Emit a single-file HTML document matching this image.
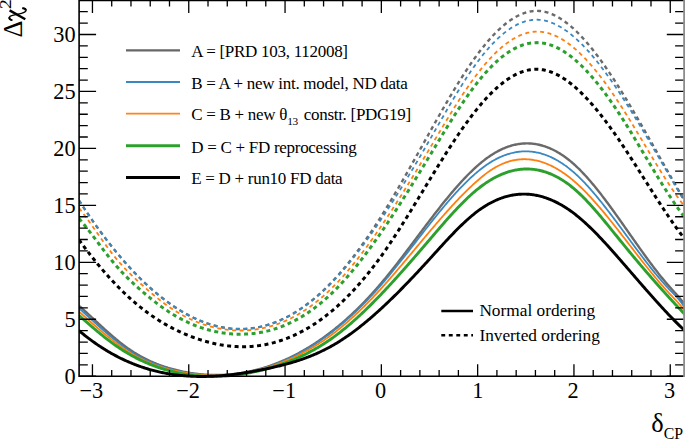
<!DOCTYPE html>
<html><head><meta charset="utf-8"><style>
html,body{margin:0;padding:0;background:#fff;width:685px;height:440px;overflow:hidden}
svg{display:block}

text{font-family:"Liberation Serif",serif;fill:#000}
</style></head><body>
<svg width="685" height="440" viewBox="0 0 685 440">
<rect width="685" height="440" fill="#fff"/>
<g fill="none" stroke-linecap="butt">
<clipPath id="fr"><rect x="79.1" y="-10" width="604.7" height="400"/></clipPath>
<g clip-path="url(#fr)">
<path d="M79.0 305.80 80.0 306.66 81.0 307.53 82.0 308.41 83.0 309.30 84.0 310.20 85.0 311.10 86.0 312.01 87.0 312.92 88.0 313.84 89.0 314.76 90.0 315.69 91.0 316.61 92.0 317.54 93.0 318.47 94.0 319.41 95.0 320.34 96.0 321.27 97.0 322.20 98.0 323.13 99.0 324.06 100.0 324.99 101.0 325.91 102.0 326.83 103.0 327.74 104.0 328.65 105.0 329.56 106.0 330.46 107.0 331.35 108.0 332.24 109.0 333.13 110.0 334.00 111.0 334.88 112.0 335.74 113.0 336.60 114.0 337.45 115.0 338.29 116.0 339.12 117.0 339.95 118.0 340.76 119.0 341.57 120.0 342.37 121.0 343.16 122.0 343.94 123.0 344.71 124.0 345.46 125.0 346.21 126.0 346.95 127.0 347.67 128.0 348.39 129.0 349.09 130.0 349.77 131.0 350.45 132.0 351.11 133.0 351.76 134.0 352.40 135.0 353.03 136.0 353.64 137.0 354.24 138.0 354.83 139.0 355.41 140.0 355.98 141.0 356.53 142.0 357.08 143.0 357.61 144.0 358.13 145.0 358.65 146.0 359.15 147.0 359.64 148.0 360.12 149.0 360.59 150.0 361.05 151.0 361.50 152.0 361.94 153.0 362.38 154.0 362.80 155.0 363.21 156.0 363.62 157.0 364.01 158.0 364.40 159.0 364.78 160.0 365.14 161.0 365.51 162.0 365.86 163.0 366.20 164.0 366.54 165.0 366.87 166.0 367.19 167.0 367.50 168.0 367.81 169.0 368.11 170.0 368.40 171.0 368.69 172.0 368.97 173.0 369.24 174.0 369.50 175.0 369.76 176.0 370.02 177.0 370.26 178.0 370.51 179.0 370.74 180.0 370.97 181.0 371.19 182.0 371.41 183.0 371.62 184.0 371.82 185.0 372.02 186.0 372.21 187.0 372.40 188.0 372.58 189.0 372.75 190.0 372.92 191.0 373.08 192.0 373.23 193.0 373.38 194.0 373.52 195.0 373.66 196.0 373.79 197.0 373.91 198.0 374.03 199.0 374.14 200.0 374.24 201.0 374.34 202.0 374.43 203.0 374.52 204.0 374.60 205.0 374.67 206.0 374.74 207.0 374.80 208.0 374.85 209.0 374.90 210.0 374.94 211.0 374.98 212.0 375.01 213.0 375.03 214.0 375.05 215.0 375.06 216.0 375.06 217.0 375.06 218.0 375.05 219.0 375.03 220.0 375.01 221.0 374.98 222.0 374.95 223.0 374.91 224.0 374.86 225.0 374.81 226.0 374.75 227.0 374.68 228.0 374.61 229.0 374.53 230.0 374.45 231.0 374.36 232.0 374.26 233.0 374.16 234.0 374.05 235.0 373.93 236.0 373.81 237.0 373.68 238.0 373.54 239.0 373.40 240.0 373.25 241.0 373.09 242.0 372.93 243.0 372.76 244.0 372.59 245.0 372.41 246.0 372.22 247.0 372.03 248.0 371.83 249.0 371.62 250.0 371.40 251.0 371.19 252.0 370.96 253.0 370.73 254.0 370.49 255.0 370.24 256.0 369.99 257.0 369.73 258.0 369.47 259.0 369.19 260.0 368.92 261.0 368.63 262.0 368.34 263.0 368.04 264.0 367.74 265.0 367.43 266.0 367.11 267.0 366.79 268.0 366.45 269.0 366.12 270.0 365.77 271.0 365.42 272.0 365.07 273.0 364.70 274.0 364.33 275.0 363.96 276.0 363.58 277.0 363.19 278.0 362.79 279.0 362.39 280.0 361.98 281.0 361.56 282.0 361.14 283.0 360.71 284.0 360.28 285.0 359.83 286.0 359.38 287.0 358.93 288.0 358.47 289.0 358.00 290.0 357.52 291.0 357.04 292.0 356.55 293.0 356.06 294.0 355.55 295.0 355.04 296.0 354.53 297.0 354.01 298.0 353.48 299.0 352.94 300.0 352.40 301.0 351.84 302.0 351.29 303.0 350.72 304.0 350.15 305.0 349.57 306.0 348.99 307.0 348.39 308.0 347.79 309.0 347.19 310.0 346.57 311.0 345.95 312.0 345.32 313.0 344.69 314.0 344.05 315.0 343.40 316.0 342.74 317.0 342.08 318.0 341.40 319.0 340.72 320.0 340.04 321.0 339.34 322.0 338.64 323.0 337.94 324.0 337.22 325.0 336.50 326.0 335.77 327.0 335.03 328.0 334.28 329.0 333.53 330.0 332.77 331.0 332.00 332.0 331.22 333.0 330.44 334.0 329.65 335.0 328.85 336.0 328.04 337.0 327.23 338.0 326.41 339.0 325.58 340.0 324.74 341.0 323.89 342.0 323.04 343.0 322.18 344.0 321.31 345.0 320.43 346.0 319.55 347.0 318.66 348.0 317.76 349.0 316.85 350.0 315.93 351.0 315.01 352.0 314.08 353.0 313.14 354.0 312.19 355.0 311.23 356.0 310.27 357.0 309.29 358.0 308.31 359.0 307.32 360.0 306.33 361.0 305.32 362.0 304.31 363.0 303.29 364.0 302.26 365.0 301.22 366.0 300.17 367.0 299.12 368.0 298.05 369.0 296.98 370.0 295.90 371.0 294.81 372.0 293.72 373.0 292.61 374.0 291.50 375.0 290.38 376.0 289.24 377.0 288.11 378.0 286.96 379.0 285.80 380.0 284.64 381.0 283.46 382.0 282.28 383.0 281.09 384.0 279.89 385.0 278.68 386.0 277.47 387.0 276.24 388.0 275.01 389.0 273.78 390.0 272.53 391.0 271.28 392.0 270.03 393.0 268.77 394.0 267.50 395.0 266.22 396.0 264.94 397.0 263.66 398.0 262.37 399.0 261.08 400.0 259.78 401.0 258.48 402.0 257.17 403.0 255.86 404.0 254.55 405.0 253.23 406.0 251.92 407.0 250.59 408.0 249.27 409.0 247.94 410.0 246.62 411.0 245.29 412.0 243.96 413.0 242.62 414.0 241.29 415.0 239.96 416.0 238.62 417.0 237.29 418.0 235.96 419.0 234.62 420.0 233.29 421.0 231.96 422.0 230.63 423.0 229.30 424.0 227.97 425.0 226.64 426.0 225.32 427.0 223.99 428.0 222.67 429.0 221.36 430.0 220.04 431.0 218.73 432.0 217.42 433.0 216.12 434.0 214.82 435.0 213.53 436.0 212.23 437.0 210.95 438.0 209.67 439.0 208.39 440.0 207.12 441.0 205.86 442.0 204.60 443.0 203.35 444.0 202.10 445.0 200.86 446.0 199.63 447.0 198.40 448.0 197.18 449.0 195.97 450.0 194.77 451.0 193.58 452.0 192.39 453.0 191.21 454.0 190.05 455.0 188.89 456.0 187.74 457.0 186.60 458.0 185.47 459.0 184.35 460.0 183.24 461.0 182.14 462.0 181.05 463.0 179.97 464.0 178.91 465.0 177.85 466.0 176.81 467.0 175.78 468.0 174.76 469.0 173.75 470.0 172.76 471.0 171.78 472.0 170.82 473.0 169.86 474.0 168.92 475.0 168.00 476.0 167.09 477.0 166.19 478.0 165.31 479.0 164.44 480.0 163.59 481.0 162.76 482.0 161.94 483.0 161.13 484.0 160.35 485.0 159.57 486.0 158.82 487.0 158.08 488.0 157.36 489.0 156.66 490.0 155.97 491.0 155.31 492.0 154.66 493.0 154.03 494.0 153.41 495.0 152.82 496.0 152.24 497.0 151.68 498.0 151.14 499.0 150.62 500.0 150.11 501.0 149.62 502.0 149.16 503.0 148.71 504.0 148.27 505.0 147.86 506.0 147.46 507.0 147.09 508.0 146.73 509.0 146.39 510.0 146.06 511.0 145.76 512.0 145.47 513.0 145.20 514.0 144.95 515.0 144.72 516.0 144.51 517.0 144.32 518.0 144.14 519.0 143.98 520.0 143.84 521.0 143.72 522.0 143.62 523.0 143.54 524.0 143.47 525.0 143.43 526.0 143.40 527.0 143.39 528.0 143.40 529.0 143.43 530.0 143.47 531.0 143.54 532.0 143.62 533.0 143.73 534.0 143.85 535.0 143.99 536.0 144.15 537.0 144.33 538.0 144.52 539.0 144.74 540.0 144.97 541.0 145.23 542.0 145.50 543.0 145.79 544.0 146.10 545.0 146.43 546.0 146.77 547.0 147.14 548.0 147.53 549.0 147.93 550.0 148.35 551.0 148.80 552.0 149.26 553.0 149.74 554.0 150.24 555.0 150.76 556.0 151.30 557.0 151.85 558.0 152.43 559.0 153.02 560.0 153.64 561.0 154.27 562.0 154.93 563.0 155.60 564.0 156.29 565.0 157.00 566.0 157.73 567.0 158.48 568.0 159.25 569.0 160.04 570.0 160.84 571.0 161.67 572.0 162.52 573.0 163.38 574.0 164.27 575.0 165.17 576.0 166.10 577.0 167.04 578.0 168.00 579.0 168.98 580.0 169.97 581.0 170.99 582.0 172.02 583.0 173.06 584.0 174.13 585.0 175.21 586.0 176.30 587.0 177.41 588.0 178.54 589.0 179.68 590.0 180.83 591.0 182.00 592.0 183.18 593.0 184.37 594.0 185.58 595.0 186.79 596.0 188.03 597.0 189.27 598.0 190.52 599.0 191.78 600.0 193.06 601.0 194.34 602.0 195.64 603.0 196.94 604.0 198.26 605.0 199.58 606.0 200.91 607.0 202.25 608.0 203.59 609.0 204.95 610.0 206.31 611.0 207.68 612.0 209.05 613.0 210.43 614.0 211.81 615.0 213.20 616.0 214.60 617.0 216.00 618.0 217.40 619.0 218.81 620.0 220.22 621.0 221.64 622.0 223.05 623.0 224.47 624.0 225.89 625.0 227.32 626.0 228.74 627.0 230.16 628.0 231.59 629.0 233.02 630.0 234.44 631.0 235.87 632.0 237.29 633.0 238.71 634.0 240.14 635.0 241.56 636.0 242.97 637.0 244.39 638.0 245.80 639.0 247.21 640.0 248.61 641.0 250.02 642.0 251.41 643.0 252.80 644.0 254.19 645.0 255.57 646.0 256.95 647.0 258.32 648.0 259.68 649.0 261.03 650.0 262.38 651.0 263.72 652.0 265.06 653.0 266.38 654.0 267.70 655.0 269.00 656.0 270.30 657.0 271.59 658.0 272.87 659.0 274.13 660.0 275.39 661.0 276.64 662.0 277.87 663.0 279.09 664.0 280.30 665.0 281.50 666.0 282.68 667.0 283.85 668.0 285.01 669.0 286.16 670.0 287.28 671.0 288.40 672.0 289.50 673.0 290.60 674.0 291.69 675.0 292.79 676.0 293.89 677.0 295.01 678.0 296.14 679.0 297.29 680.0 298.47 681.0 299.68 682.0 300.92 683.0 302.20 684.0 303.53 685.0 304.90" stroke="#6a6a6a" stroke-width="2.4"/>
<path d="M79.0 308.20 80.0 309.10 81.0 310.01 82.0 310.92 83.0 311.82 84.0 312.74 85.0 313.65 86.0 314.56 87.0 315.47 88.0 316.39 89.0 317.30 90.0 318.22 91.0 319.13 92.0 320.04 93.0 320.95 94.0 321.86 95.0 322.77 96.0 323.68 97.0 324.58 98.0 325.48 99.0 326.38 100.0 327.27 101.0 328.17 102.0 329.05 103.0 329.94 104.0 330.82 105.0 331.69 106.0 332.56 107.0 333.42 108.0 334.28 109.0 335.14 110.0 335.98 111.0 336.82 112.0 337.65 113.0 338.48 114.0 339.30 115.0 340.11 116.0 340.91 117.0 341.71 118.0 342.49 119.0 343.27 120.0 344.04 121.0 344.80 122.0 345.55 123.0 346.28 124.0 347.01 125.0 347.73 126.0 348.44 127.0 349.13 128.0 349.82 129.0 350.49 130.0 351.15 131.0 351.80 132.0 352.43 133.0 353.06 134.0 353.67 135.0 354.27 136.0 354.85 137.0 355.43 138.0 355.99 139.0 356.55 140.0 357.09 141.0 357.62 142.0 358.14 143.0 358.65 144.0 359.15 145.0 359.64 146.0 360.12 147.0 360.59 148.0 361.05 149.0 361.49 150.0 361.93 151.0 362.36 152.0 362.78 153.0 363.20 154.0 363.60 155.0 363.99 156.0 364.38 157.0 364.75 158.0 365.12 159.0 365.48 160.0 365.83 161.0 366.17 162.0 366.51 163.0 366.84 164.0 367.16 165.0 367.47 166.0 367.78 167.0 368.07 168.0 368.37 169.0 368.65 170.0 368.93 171.0 369.20 172.0 369.46 173.0 369.72 174.0 369.98 175.0 370.22 176.0 370.46 177.0 370.70 178.0 370.93 179.0 371.15 180.0 371.37 181.0 371.58 182.0 371.79 183.0 371.99 184.0 372.18 185.0 372.37 186.0 372.55 187.0 372.73 188.0 372.90 189.0 373.07 190.0 373.23 191.0 373.38 192.0 373.53 193.0 373.67 194.0 373.81 195.0 373.94 196.0 374.06 197.0 374.18 198.0 374.29 199.0 374.40 200.0 374.50 201.0 374.59 202.0 374.68 203.0 374.76 204.0 374.84 205.0 374.91 206.0 374.97 207.0 375.03 208.0 375.08 209.0 375.13 210.0 375.16 211.0 375.20 212.0 375.23 213.0 375.25 214.0 375.26 215.0 375.27 216.0 375.28 217.0 375.27 218.0 375.26 219.0 375.25 220.0 375.23 221.0 375.20 222.0 375.17 223.0 375.13 224.0 375.08 225.0 375.03 226.0 374.97 227.0 374.91 228.0 374.84 229.0 374.76 230.0 374.68 231.0 374.59 232.0 374.49 233.0 374.39 234.0 374.28 235.0 374.17 236.0 374.05 237.0 373.92 238.0 373.79 239.0 373.65 240.0 373.50 241.0 373.35 242.0 373.19 243.0 373.03 244.0 372.86 245.0 372.68 246.0 372.50 247.0 372.31 248.0 372.11 249.0 371.91 250.0 371.70 251.0 371.48 252.0 371.26 253.0 371.03 254.0 370.80 255.0 370.56 256.0 370.31 257.0 370.05 258.0 369.79 259.0 369.53 260.0 369.25 261.0 368.97 262.0 368.69 263.0 368.39 264.0 368.09 265.0 367.79 266.0 367.48 267.0 367.16 268.0 366.83 269.0 366.50 270.0 366.16 271.0 365.81 272.0 365.46 273.0 365.10 274.0 364.74 275.0 364.37 276.0 363.99 277.0 363.61 278.0 363.21 279.0 362.82 280.0 362.41 281.0 362.00 282.0 361.58 283.0 361.16 284.0 360.73 285.0 360.29 286.0 359.84 287.0 359.39 288.0 358.93 289.0 358.47 290.0 358.00 291.0 357.52 292.0 357.04 293.0 356.54 294.0 356.04 295.0 355.54 296.0 355.03 297.0 354.51 298.0 353.98 299.0 353.45 300.0 352.91 301.0 352.36 302.0 351.81 303.0 351.25 304.0 350.68 305.0 350.11 306.0 349.53 307.0 348.94 308.0 348.34 309.0 347.74 310.0 347.13 311.0 346.52 312.0 345.89 313.0 345.26 314.0 344.62 315.0 343.98 316.0 343.33 317.0 342.67 318.0 342.00 319.0 341.33 320.0 340.65 321.0 339.96 322.0 339.27 323.0 338.57 324.0 337.86 325.0 337.14 326.0 336.42 327.0 335.69 328.0 334.95 329.0 334.20 330.0 333.45 331.0 332.69 332.0 331.92 333.0 331.15 334.0 330.37 335.0 329.58 336.0 328.78 337.0 327.98 338.0 327.16 339.0 326.35 340.0 325.52 341.0 324.69 342.0 323.84 343.0 323.00 344.0 322.14 345.0 321.28 346.0 320.40 347.0 319.52 348.0 318.64 349.0 317.74 350.0 316.84 351.0 315.93 352.0 315.02 353.0 314.09 354.0 313.16 355.0 312.22 356.0 311.27 357.0 310.32 358.0 309.35 359.0 308.38 360.0 307.41 361.0 306.42 362.0 305.43 363.0 304.42 364.0 303.42 365.0 302.40 366.0 301.37 367.0 300.34 368.0 299.30 369.0 298.25 370.0 297.20 371.0 296.13 372.0 295.06 373.0 293.98 374.0 292.89 375.0 291.80 376.0 290.69 377.0 289.58 378.0 288.46 379.0 287.33 380.0 286.20 381.0 285.05 382.0 283.90 383.0 282.74 384.0 281.57 385.0 280.40 386.0 279.22 387.0 278.03 388.0 276.83 389.0 275.63 390.0 274.42 391.0 273.21 392.0 271.99 393.0 270.76 394.0 269.53 395.0 268.30 396.0 267.06 397.0 265.81 398.0 264.56 399.0 263.31 400.0 262.05 401.0 260.79 402.0 259.52 403.0 258.26 404.0 256.99 405.0 255.71 406.0 254.44 407.0 253.16 408.0 251.88 409.0 250.60 410.0 249.31 411.0 248.03 412.0 246.74 413.0 245.46 414.0 244.17 415.0 242.88 416.0 241.59 417.0 240.31 418.0 239.02 419.0 237.73 420.0 236.45 421.0 235.16 422.0 233.88 423.0 232.60 424.0 231.32 425.0 230.04 426.0 228.77 427.0 227.49 428.0 226.22 429.0 224.96 430.0 223.69 431.0 222.43 432.0 221.17 433.0 219.92 434.0 218.67 435.0 217.43 436.0 216.19 437.0 214.95 438.0 213.72 439.0 212.50 440.0 211.28 441.0 210.06 442.0 208.86 443.0 207.66 444.0 206.46 445.0 205.27 446.0 204.09 447.0 202.92 448.0 201.75 449.0 200.59 450.0 199.44 451.0 198.30 452.0 197.17 453.0 196.04 454.0 194.93 455.0 193.82 456.0 192.72 457.0 191.63 458.0 190.55 459.0 189.48 460.0 188.43 461.0 187.38 462.0 186.34 463.0 185.31 464.0 184.30 465.0 183.30 466.0 182.30 467.0 181.32 468.0 180.36 469.0 179.40 470.0 178.46 471.0 177.53 472.0 176.61 473.0 175.71 474.0 174.82 475.0 173.94 476.0 173.08 477.0 172.23 478.0 171.40 479.0 170.58 480.0 169.78 481.0 168.99 482.0 168.22 483.0 167.46 484.0 166.72 485.0 166.00 486.0 165.29 487.0 164.60 488.0 163.92 489.0 163.26 490.0 162.62 491.0 162.00 492.0 161.39 493.0 160.81 494.0 160.24 495.0 159.68 496.0 159.15 497.0 158.63 498.0 158.13 499.0 157.65 500.0 157.19 501.0 156.74 502.0 156.31 503.0 155.90 504.0 155.51 505.0 155.13 506.0 154.78 507.0 154.44 508.0 154.11 509.0 153.81 510.0 153.52 511.0 153.25 512.0 153.00 513.0 152.77 514.0 152.55 515.0 152.35 516.0 152.17 517.0 152.01 518.0 151.87 519.0 151.74 520.0 151.63 521.0 151.54 522.0 151.47 523.0 151.41 524.0 151.38 525.0 151.36 526.0 151.36 527.0 151.37 528.0 151.41 529.0 151.46 530.0 151.53 531.0 151.62 532.0 151.73 533.0 151.85 534.0 151.99 535.0 152.15 536.0 152.33 537.0 152.53 538.0 152.74 539.0 152.97 540.0 153.22 541.0 153.49 542.0 153.78 543.0 154.08 544.0 154.41 545.0 154.75 546.0 155.11 547.0 155.48 548.0 155.88 549.0 156.29 550.0 156.72 551.0 157.17 552.0 157.64 553.0 158.13 554.0 158.63 555.0 159.15 556.0 159.69 557.0 160.25 558.0 160.83 559.0 161.42 560.0 162.04 561.0 162.67 562.0 163.32 563.0 163.98 564.0 164.67 565.0 165.38 566.0 166.10 567.0 166.84 568.0 167.60 569.0 168.38 570.0 169.17 571.0 169.99 572.0 170.82 573.0 171.67 574.0 172.54 575.0 173.43 576.0 174.33 577.0 175.26 578.0 176.20 579.0 177.15 580.0 178.13 581.0 179.12 582.0 180.12 583.0 181.15 584.0 182.18 585.0 183.24 586.0 184.30 587.0 185.38 588.0 186.48 589.0 187.58 590.0 188.71 591.0 189.84 592.0 190.99 593.0 192.14 594.0 193.31 595.0 194.50 596.0 195.69 597.0 196.89 598.0 198.10 599.0 199.33 600.0 200.56 601.0 201.80 602.0 203.05 603.0 204.31 604.0 205.58 605.0 206.86 606.0 208.14 607.0 209.43 608.0 210.73 609.0 212.04 610.0 213.35 611.0 214.66 612.0 215.98 613.0 217.31 614.0 218.64 615.0 219.98 616.0 221.32 617.0 222.66 618.0 224.01 619.0 225.36 620.0 226.71 621.0 228.07 622.0 229.43 623.0 230.78 624.0 232.14 625.0 233.51 626.0 234.87 627.0 236.23 628.0 237.59 629.0 238.95 630.0 240.31 631.0 241.67 632.0 243.03 633.0 244.39 634.0 245.74 635.0 247.09 636.0 248.44 637.0 249.79 638.0 251.13 639.0 252.47 640.0 253.80 641.0 255.13 642.0 256.45 643.0 257.77 644.0 259.09 645.0 260.39 646.0 261.69 647.0 262.99 648.0 264.27 649.0 265.55 650.0 266.82 651.0 268.09 652.0 269.34 653.0 270.59 654.0 271.83 655.0 273.06 656.0 274.27 657.0 275.48 658.0 276.68 659.0 277.86 660.0 279.04 661.0 280.20 662.0 281.35 663.0 282.49 664.0 283.62 665.0 284.73 666.0 285.83 667.0 286.92 668.0 287.99 669.0 289.05 670.0 290.10 671.0 291.13 672.0 292.14 673.0 293.16 674.0 294.19 675.0 295.22 676.0 296.28 677.0 297.37 678.0 298.49 679.0 299.65 680.0 300.87 681.0 302.14 682.0 303.48 683.0 304.89 684.0 306.39 685.0 307.97" stroke="#3a88c0" stroke-width="1.8"/>
<path d="M79.0 311.62 80.0 312.50 81.0 313.38 82.0 314.26 83.0 315.15 84.0 316.03 85.0 316.92 86.0 317.80 87.0 318.68 88.0 319.57 89.0 320.45 90.0 321.33 91.0 322.21 92.0 323.09 93.0 323.96 94.0 324.84 95.0 325.71 96.0 326.58 97.0 327.45 98.0 328.31 99.0 329.17 100.0 330.02 101.0 330.88 102.0 331.72 103.0 332.57 104.0 333.41 105.0 334.24 106.0 335.07 107.0 335.89 108.0 336.71 109.0 337.52 110.0 338.32 111.0 339.12 112.0 339.91 113.0 340.70 114.0 341.47 115.0 342.24 116.0 343.01 117.0 343.76 118.0 344.50 119.0 345.24 120.0 345.97 121.0 346.69 122.0 347.40 123.0 348.10 124.0 348.79 125.0 349.47 126.0 350.13 127.0 350.79 128.0 351.44 129.0 352.08 130.0 352.70 131.0 353.32 132.0 353.92 133.0 354.51 134.0 355.09 135.0 355.66 136.0 356.21 137.0 356.76 138.0 357.29 139.0 357.82 140.0 358.33 141.0 358.84 142.0 359.33 143.0 359.81 144.0 360.29 145.0 360.75 146.0 361.21 147.0 361.65 148.0 362.09 149.0 362.51 150.0 362.93 151.0 363.34 152.0 363.74 153.0 364.13 154.0 364.51 155.0 364.88 156.0 365.25 157.0 365.60 158.0 365.95 159.0 366.29 160.0 366.62 161.0 366.95 162.0 367.27 163.0 367.58 164.0 367.88 165.0 368.18 166.0 368.46 167.0 368.75 168.0 369.02 169.0 369.29 170.0 369.55 171.0 369.81 172.0 370.06 173.0 370.30 174.0 370.54 175.0 370.77 176.0 371.00 177.0 371.22 178.0 371.43 179.0 371.64 180.0 371.85 181.0 372.04 182.0 372.24 183.0 372.42 184.0 372.60 185.0 372.78 186.0 372.95 187.0 373.11 188.0 373.27 189.0 373.42 190.0 373.57 191.0 373.71 192.0 373.85 193.0 373.98 194.0 374.10 195.0 374.22 196.0 374.33 197.0 374.44 198.0 374.54 199.0 374.64 200.0 374.73 201.0 374.81 202.0 374.89 203.0 374.96 204.0 375.03 205.0 375.09 206.0 375.15 207.0 375.20 208.0 375.24 209.0 375.28 210.0 375.31 211.0 375.34 212.0 375.36 213.0 375.37 214.0 375.38 215.0 375.39 216.0 375.39 217.0 375.38 218.0 375.36 219.0 375.35 220.0 375.32 221.0 375.29 222.0 375.25 223.0 375.21 224.0 375.16 225.0 375.11 226.0 375.05 227.0 374.98 228.0 374.91 229.0 374.84 230.0 374.75 231.0 374.66 232.0 374.57 233.0 374.47 234.0 374.36 235.0 374.25 236.0 374.13 237.0 374.01 238.0 373.88 239.0 373.75 240.0 373.60 241.0 373.46 242.0 373.31 243.0 373.15 244.0 372.98 245.0 372.81 246.0 372.64 247.0 372.46 248.0 372.27 249.0 372.07 250.0 371.87 251.0 371.67 252.0 371.46 253.0 371.24 254.0 371.02 255.0 370.79 256.0 370.56 257.0 370.32 258.0 370.07 259.0 369.82 260.0 369.56 261.0 369.30 262.0 369.03 263.0 368.75 264.0 368.47 265.0 368.18 266.0 367.89 267.0 367.59 268.0 367.28 269.0 366.97 270.0 366.66 271.0 366.33 272.0 366.00 273.0 365.67 274.0 365.33 275.0 364.98 276.0 364.63 277.0 364.27 278.0 363.91 279.0 363.54 280.0 363.16 281.0 362.78 282.0 362.39 283.0 362.00 284.0 361.60 285.0 361.19 286.0 360.78 287.0 360.36 288.0 359.94 289.0 359.51 290.0 359.07 291.0 358.63 292.0 358.18 293.0 357.73 294.0 357.27 295.0 356.80 296.0 356.32 297.0 355.84 298.0 355.36 299.0 354.86 300.0 354.36 301.0 353.85 302.0 353.34 303.0 352.82 304.0 352.29 305.0 351.76 306.0 351.21 307.0 350.67 308.0 350.11 309.0 349.55 310.0 348.98 311.0 348.40 312.0 347.81 313.0 347.22 314.0 346.62 315.0 346.01 316.0 345.40 317.0 344.78 318.0 344.14 319.0 343.51 320.0 342.86 321.0 342.21 322.0 341.55 323.0 340.88 324.0 340.20 325.0 339.51 326.0 338.82 327.0 338.12 328.0 337.41 329.0 336.69 330.0 335.97 331.0 335.23 332.0 334.49 333.0 333.74 334.0 332.98 335.0 332.21 336.0 331.43 337.0 330.65 338.0 329.85 339.0 329.05 340.0 328.24 341.0 327.42 342.0 326.60 343.0 325.76 344.0 324.92 345.0 324.07 346.0 323.21 347.0 322.35 348.0 321.47 349.0 320.59 350.0 319.70 351.0 318.81 352.0 317.90 353.0 316.99 354.0 316.07 355.0 315.15 356.0 314.21 357.0 313.27 358.0 312.33 359.0 311.37 360.0 310.41 361.0 309.44 362.0 308.47 363.0 307.48 364.0 306.49 365.0 305.50 366.0 304.49 367.0 303.48 368.0 302.47 369.0 301.45 370.0 300.42 371.0 299.38 372.0 298.34 373.0 297.29 374.0 296.24 375.0 295.18 376.0 294.11 377.0 293.04 378.0 291.96 379.0 290.87 380.0 289.78 381.0 288.68 382.0 287.58 383.0 286.47 384.0 285.36 385.0 284.24 386.0 283.11 387.0 281.99 388.0 280.85 389.0 279.71 390.0 278.57 391.0 277.42 392.0 276.27 393.0 275.11 394.0 273.95 395.0 272.79 396.0 271.62 397.0 270.45 398.0 269.28 399.0 268.11 400.0 266.93 401.0 265.74 402.0 264.56 403.0 263.37 404.0 262.19 405.0 261.00 406.0 259.80 407.0 258.61 408.0 257.41 409.0 256.22 410.0 255.02 411.0 253.82 412.0 252.62 413.0 251.42 414.0 250.22 415.0 249.02 416.0 247.82 417.0 246.62 418.0 245.42 419.0 244.22 420.0 243.02 421.0 241.82 422.0 240.62 423.0 239.42 424.0 238.23 425.0 237.03 426.0 235.84 427.0 234.65 428.0 233.46 429.0 232.27 430.0 231.09 431.0 229.91 432.0 228.73 433.0 227.55 434.0 226.38 435.0 225.21 436.0 224.04 437.0 222.88 438.0 221.72 439.0 220.56 440.0 219.41 441.0 218.26 442.0 217.11 443.0 215.97 444.0 214.84 445.0 213.71 446.0 212.58 447.0 211.46 448.0 210.35 449.0 209.24 450.0 208.13 451.0 207.04 452.0 205.94 453.0 204.86 454.0 203.78 455.0 202.70 456.0 201.64 457.0 200.58 458.0 199.52 459.0 198.48 460.0 197.44 461.0 196.41 462.0 195.39 463.0 194.37 464.0 193.36 465.0 192.37 466.0 191.37 467.0 190.39 468.0 189.42 469.0 188.45 470.0 187.50 471.0 186.55 472.0 185.61 473.0 184.69 474.0 183.77 475.0 182.86 476.0 181.96 477.0 181.08 478.0 180.20 479.0 179.33 480.0 178.48 481.0 177.63 482.0 176.80 483.0 175.99 484.0 175.19 485.0 174.40 486.0 173.64 487.0 172.89 488.0 172.15 489.0 171.44 490.0 170.75 491.0 170.08 492.0 169.43 493.0 168.80 494.0 168.19 495.0 167.60 496.0 167.03 497.0 166.48 498.0 165.95 499.0 165.45 500.0 164.96 501.0 164.49 502.0 164.05 503.0 163.62 504.0 163.22 505.0 162.83 506.0 162.46 507.0 162.12 508.0 161.79 509.0 161.48 510.0 161.20 511.0 160.93 512.0 160.68 513.0 160.46 514.0 160.25 515.0 160.06 516.0 159.89 517.0 159.74 518.0 159.61 519.0 159.50 520.0 159.40 521.0 159.33 522.0 159.27 523.0 159.24 524.0 159.22 525.0 159.22 526.0 159.24 527.0 159.28 528.0 159.34 529.0 159.42 530.0 159.51 531.0 159.63 532.0 159.76 533.0 159.91 534.0 160.08 535.0 160.26 536.0 160.47 537.0 160.69 538.0 160.93 539.0 161.19 540.0 161.47 541.0 161.76 542.0 162.08 543.0 162.41 544.0 162.75 545.0 163.12 546.0 163.50 547.0 163.90 548.0 164.32 549.0 164.76 550.0 165.21 551.0 165.68 552.0 166.17 553.0 166.67 554.0 167.19 555.0 167.73 556.0 168.29 557.0 168.86 558.0 169.45 559.0 170.05 560.0 170.67 561.0 171.31 562.0 171.97 563.0 172.64 564.0 173.33 565.0 174.03 566.0 174.76 567.0 175.49 568.0 176.25 569.0 177.02 570.0 177.80 571.0 178.61 572.0 179.42 573.0 180.26 574.0 181.11 575.0 181.97 576.0 182.85 577.0 183.75 578.0 184.66 579.0 185.59 580.0 186.53 581.0 187.48 582.0 188.45 583.0 189.43 584.0 190.42 585.0 191.43 586.0 192.45 587.0 193.48 588.0 194.53 589.0 195.59 590.0 196.65 591.0 197.73 592.0 198.82 593.0 199.92 594.0 201.03 595.0 202.15 596.0 203.29 597.0 204.43 598.0 205.58 599.0 206.73 600.0 207.90 601.0 209.08 602.0 210.26 603.0 211.45 604.0 212.65 605.0 213.86 606.0 215.07 607.0 216.29 608.0 217.52 609.0 218.75 610.0 219.99 611.0 221.23 612.0 222.48 613.0 223.73 614.0 224.99 615.0 226.25 616.0 227.52 617.0 228.79 618.0 230.07 619.0 231.34 620.0 232.62 621.0 233.91 622.0 235.19 623.0 236.48 624.0 237.77 625.0 239.06 626.0 240.35 627.0 241.64 628.0 242.94 629.0 244.23 630.0 245.53 631.0 246.82 632.0 248.11 633.0 249.41 634.0 250.70 635.0 251.99 636.0 253.28 637.0 254.56 638.0 255.85 639.0 257.13 640.0 258.41 641.0 259.69 642.0 260.96 643.0 262.23 644.0 263.50 645.0 264.76 646.0 266.02 647.0 267.27 648.0 268.52 649.0 269.76 650.0 270.99 651.0 272.22 652.0 273.45 653.0 274.67 654.0 275.88 655.0 277.08 656.0 278.28 657.0 279.47 658.0 280.65 659.0 281.82 660.0 282.99 661.0 284.14 662.0 285.29 663.0 286.43 664.0 287.56 665.0 288.68 666.0 289.78 667.0 290.88 668.0 291.97 669.0 293.04 670.0 294.11 671.0 295.16 672.0 296.21 673.0 297.25 674.0 298.30 675.0 299.35 676.0 300.42 677.0 301.50 678.0 302.61 679.0 303.75 680.0 304.92 681.0 306.13 682.0 307.38 683.0 308.68 684.0 310.04 685.0 311.46" stroke="#ff7f0e" stroke-width="1.8"/>
<path d="M79.0 315.36 80.0 316.25 81.0 317.14 82.0 318.02 83.0 318.91 84.0 319.80 85.0 320.68 86.0 321.56 87.0 322.44 88.0 323.32 89.0 324.19 90.0 325.06 91.0 325.93 92.0 326.79 93.0 327.65 94.0 328.50 95.0 329.35 96.0 330.20 97.0 331.04 98.0 331.88 99.0 332.71 100.0 333.53 101.0 334.35 102.0 335.16 103.0 335.97 104.0 336.77 105.0 337.56 106.0 338.35 107.0 339.13 108.0 339.90 109.0 340.66 110.0 341.42 111.0 342.16 112.0 342.90 113.0 343.63 114.0 344.35 115.0 345.06 116.0 345.76 117.0 346.45 118.0 347.13 119.0 347.81 120.0 348.47 121.0 349.12 122.0 349.77 123.0 350.40 124.0 351.03 125.0 351.65 126.0 352.25 127.0 352.85 128.0 353.44 129.0 354.02 130.0 354.60 131.0 355.16 132.0 355.72 133.0 356.26 134.0 356.80 135.0 357.33 136.0 357.85 137.0 358.36 138.0 358.87 139.0 359.36 140.0 359.85 141.0 360.33 142.0 360.80 143.0 361.26 144.0 361.72 145.0 362.17 146.0 362.61 147.0 363.04 148.0 363.46 149.0 363.88 150.0 364.29 151.0 364.69 152.0 365.08 153.0 365.47 154.0 365.85 155.0 366.22 156.0 366.58 157.0 366.94 158.0 367.29 159.0 367.63 160.0 367.97 161.0 368.30 162.0 368.62 163.0 368.94 164.0 369.24 165.0 369.55 166.0 369.84 167.0 370.13 168.0 370.41 169.0 370.68 170.0 370.95 171.0 371.21 172.0 371.46 173.0 371.71 174.0 371.95 175.0 372.19 176.0 372.41 177.0 372.63 178.0 372.85 179.0 373.06 180.0 373.26 181.0 373.45 182.0 373.64 183.0 373.82 184.0 374.00 185.0 374.17 186.0 374.33 187.0 374.49 188.0 374.64 189.0 374.78 190.0 374.92 191.0 375.05 192.0 375.18 193.0 375.30 194.0 375.41 195.0 375.52 196.0 375.62 197.0 375.71 198.0 375.80 199.0 375.88 200.0 375.96 201.0 376.03 202.0 376.10 203.0 376.16 204.0 376.21 205.0 376.26 206.0 376.30 207.0 376.34 208.0 376.37 209.0 376.39 210.0 376.41 211.0 376.42 212.0 376.43 213.0 376.43 214.0 376.43 215.0 376.42 216.0 376.40 217.0 376.38 218.0 376.36 219.0 376.32 220.0 376.29 221.0 376.24 222.0 376.20 223.0 376.14 224.0 376.08 225.0 376.02 226.0 375.95 227.0 375.88 228.0 375.80 229.0 375.71 230.0 375.62 231.0 375.52 232.0 375.42 233.0 375.31 234.0 375.20 235.0 375.09 236.0 374.96 237.0 374.84 238.0 374.70 239.0 374.57 240.0 374.42 241.0 374.28 242.0 374.12 243.0 373.97 244.0 373.80 245.0 373.64 246.0 373.46 247.0 373.29 248.0 373.10 249.0 372.92 250.0 372.72 251.0 372.53 252.0 372.33 253.0 372.12 254.0 371.91 255.0 371.69 256.0 371.47 257.0 371.25 258.0 371.02 259.0 370.78 260.0 370.54 261.0 370.30 262.0 370.05 263.0 369.80 264.0 369.54 265.0 369.28 266.0 369.01 267.0 368.74 268.0 368.46 269.0 368.18 270.0 367.90 271.0 367.61 272.0 367.31 273.0 367.01 274.0 366.71 275.0 366.40 276.0 366.08 277.0 365.76 278.0 365.44 279.0 365.11 280.0 364.77 281.0 364.43 282.0 364.08 283.0 363.73 284.0 363.37 285.0 363.01 286.0 362.64 287.0 362.26 288.0 361.88 289.0 361.50 290.0 361.10 291.0 360.70 292.0 360.30 293.0 359.89 294.0 359.47 295.0 359.05 296.0 358.62 297.0 358.18 298.0 357.73 299.0 357.28 300.0 356.83 301.0 356.36 302.0 355.89 303.0 355.42 304.0 354.93 305.0 354.44 306.0 353.94 307.0 353.44 308.0 352.93 309.0 352.41 310.0 351.88 311.0 351.34 312.0 350.80 313.0 350.25 314.0 349.69 315.0 349.13 316.0 348.56 317.0 347.98 318.0 347.39 319.0 346.79 320.0 346.19 321.0 345.58 322.0 344.96 323.0 344.33 324.0 343.69 325.0 343.05 326.0 342.39 327.0 341.73 328.0 341.06 329.0 340.38 330.0 339.69 331.0 339.00 332.0 338.29 333.0 337.58 334.0 336.85 335.0 336.12 336.0 335.38 337.0 334.63 338.0 333.87 339.0 333.11 340.0 332.33 341.0 331.55 342.0 330.76 343.0 329.96 344.0 329.15 345.0 328.33 346.0 327.51 347.0 326.68 348.0 325.84 349.0 324.99 350.0 324.14 351.0 323.28 352.0 322.41 353.0 321.53 354.0 320.65 355.0 319.76 356.0 318.86 357.0 317.95 358.0 317.04 359.0 316.12 360.0 315.20 361.0 314.27 362.0 313.33 363.0 312.38 364.0 311.43 365.0 310.48 366.0 309.51 367.0 308.55 368.0 307.57 369.0 306.59 370.0 305.60 371.0 304.61 372.0 303.61 373.0 302.61 374.0 301.60 375.0 300.59 376.0 299.57 377.0 298.54 378.0 297.51 379.0 296.48 380.0 295.44 381.0 294.40 382.0 293.35 383.0 292.29 384.0 291.23 385.0 290.17 386.0 289.11 387.0 288.03 388.0 286.96 389.0 285.88 390.0 284.80 391.0 283.71 392.0 282.62 393.0 281.52 394.0 280.42 395.0 279.32 396.0 278.22 397.0 277.11 398.0 276.00 399.0 274.88 400.0 273.76 401.0 272.64 402.0 271.52 403.0 270.39 404.0 269.26 405.0 268.13 406.0 266.99 407.0 265.85 408.0 264.71 409.0 263.57 410.0 262.43 411.0 261.28 412.0 260.13 413.0 258.98 414.0 257.83 415.0 256.67 416.0 255.52 417.0 254.36 418.0 253.20 419.0 252.04 420.0 250.87 421.0 249.71 422.0 248.55 423.0 247.38 424.0 246.21 425.0 245.05 426.0 243.88 427.0 242.71 428.0 241.54 429.0 240.37 430.0 239.20 431.0 238.03 432.0 236.86 433.0 235.69 434.0 234.52 435.0 233.35 436.0 232.18 437.0 231.02 438.0 229.85 439.0 228.69 440.0 227.53 441.0 226.38 442.0 225.23 443.0 224.08 444.0 222.93 445.0 221.79 446.0 220.66 447.0 219.53 448.0 218.40 449.0 217.29 450.0 216.17 451.0 215.07 452.0 213.97 453.0 212.88 454.0 211.79 455.0 210.71 456.0 209.64 457.0 208.58 458.0 207.53 459.0 206.49 460.0 205.45 461.0 204.43 462.0 203.42 463.0 202.41 464.0 201.42 465.0 200.44 466.0 199.47 467.0 198.51 468.0 197.56 469.0 196.63 470.0 195.71 471.0 194.80 472.0 193.90 473.0 193.02 474.0 192.15 475.0 191.30 476.0 190.46 477.0 189.64 478.0 188.83 479.0 188.04 480.0 187.26 481.0 186.50 482.0 185.76 483.0 185.03 484.0 184.31 485.0 183.62 486.0 182.93 487.0 182.27 488.0 181.62 489.0 180.98 490.0 180.36 491.0 179.76 492.0 179.17 493.0 178.60 494.0 178.05 495.0 177.51 496.0 176.99 497.0 176.48 498.0 175.99 499.0 175.52 500.0 175.06 501.0 174.62 502.0 174.20 503.0 173.79 504.0 173.40 505.0 173.02 506.0 172.66 507.0 172.32 508.0 171.99 509.0 171.68 510.0 171.39 511.0 171.12 512.0 170.86 513.0 170.61 514.0 170.39 515.0 170.18 516.0 169.99 517.0 169.81 518.0 169.65 519.0 169.51 520.0 169.39 521.0 169.28 522.0 169.19 523.0 169.11 524.0 169.06 525.0 169.02 526.0 168.99 527.0 168.99 528.0 169.00 529.0 169.03 530.0 169.08 531.0 169.14 532.0 169.22 533.0 169.32 534.0 169.43 535.0 169.57 536.0 169.72 537.0 169.89 538.0 170.07 539.0 170.28 540.0 170.50 541.0 170.73 542.0 170.99 543.0 171.26 544.0 171.56 545.0 171.86 546.0 172.19 547.0 172.54 548.0 172.90 549.0 173.28 550.0 173.68 551.0 174.09 552.0 174.53 553.0 174.98 554.0 175.45 555.0 175.94 556.0 176.45 557.0 176.97 558.0 177.51 559.0 178.08 560.0 178.65 561.0 179.25 562.0 179.87 563.0 180.50 564.0 181.16 565.0 181.83 566.0 182.52 567.0 183.22 568.0 183.95 569.0 184.70 570.0 185.46 571.0 186.24 572.0 187.04 573.0 187.86 574.0 188.70 575.0 189.56 576.0 190.43 577.0 191.32 578.0 192.23 579.0 193.16 580.0 194.11 581.0 195.07 582.0 196.04 583.0 197.03 584.0 198.04 585.0 199.06 586.0 200.09 587.0 201.13 588.0 202.19 589.0 203.27 590.0 204.35 591.0 205.45 592.0 206.55 593.0 207.67 594.0 208.80 595.0 209.93 596.0 211.08 597.0 212.24 598.0 213.40 599.0 214.57 600.0 215.75 601.0 216.94 602.0 218.13 603.0 219.33 604.0 220.53 605.0 221.74 606.0 222.96 607.0 224.18 608.0 225.40 609.0 226.63 610.0 227.86 611.0 229.09 612.0 230.33 613.0 231.57 614.0 232.80 615.0 234.04 616.0 235.28 617.0 236.52 618.0 237.76 619.0 239.00 620.0 240.23 621.0 241.47 622.0 242.70 623.0 243.93 624.0 245.16 625.0 246.38 626.0 247.60 627.0 248.82 628.0 250.04 629.0 251.25 630.0 252.46 631.0 253.67 632.0 254.87 633.0 256.07 634.0 257.27 635.0 258.47 636.0 259.66 637.0 260.85 638.0 262.04 639.0 263.22 640.0 264.41 641.0 265.59 642.0 266.76 643.0 267.93 644.0 269.10 645.0 270.27 646.0 271.44 647.0 272.60 648.0 273.76 649.0 274.91 650.0 276.06 651.0 277.21 652.0 278.36 653.0 279.51 654.0 280.65 655.0 281.78 656.0 282.92 657.0 284.05 658.0 285.18 659.0 286.31 660.0 287.43 661.0 288.55 662.0 289.67 663.0 290.78 664.0 291.89 665.0 293.00 666.0 294.11 667.0 295.21 668.0 296.31 669.0 297.41 670.0 298.50 671.0 299.59 672.0 300.68 673.0 301.76 674.0 302.84 675.0 303.92 676.0 304.99 677.0 306.07 678.0 307.13 679.0 308.20 680.0 309.26 681.0 310.32 682.0 311.38 683.0 312.43 684.0 313.48 685.0 314.53" stroke="#2ca02c" stroke-width="2.9"/>
<path d="M79.0 330.64 80.0 331.48 81.0 332.31 82.0 333.13 83.0 333.94 84.0 334.75 85.0 335.54 86.0 336.33 87.0 337.10 88.0 337.87 89.0 338.63 90.0 339.38 91.0 340.12 92.0 340.85 93.0 341.58 94.0 342.29 95.0 343.00 96.0 343.70 97.0 344.38 98.0 345.07 99.0 345.74 100.0 346.40 101.0 347.05 102.0 347.70 103.0 348.34 104.0 348.97 105.0 349.59 106.0 350.20 107.0 350.81 108.0 351.40 109.0 351.99 110.0 352.57 111.0 353.14 112.0 353.71 113.0 354.26 114.0 354.81 115.0 355.35 116.0 355.89 117.0 356.41 118.0 356.93 119.0 357.44 120.0 357.94 121.0 358.43 122.0 358.92 123.0 359.40 124.0 359.87 125.0 360.33 126.0 360.78 127.0 361.23 128.0 361.67 129.0 362.11 130.0 362.53 131.0 362.95 132.0 363.36 133.0 363.77 134.0 364.17 135.0 364.56 136.0 364.94 137.0 365.32 138.0 365.68 139.0 366.05 140.0 366.40 141.0 366.75 142.0 367.09 143.0 367.42 144.0 367.75 145.0 368.07 146.0 368.39 147.0 368.69 148.0 369.00 149.0 369.29 150.0 369.58 151.0 369.86 152.0 370.13 153.0 370.40 154.0 370.66 155.0 370.92 156.0 371.17 157.0 371.41 158.0 371.65 159.0 371.88 160.0 372.10 161.0 372.32 162.0 372.53 163.0 372.74 164.0 372.94 165.0 373.13 166.0 373.32 167.0 373.50 168.0 373.68 169.0 373.85 170.0 374.02 171.0 374.17 172.0 374.33 173.0 374.48 174.0 374.62 175.0 374.75 176.0 374.89 177.0 375.01 178.0 375.13 179.0 375.25 180.0 375.36 181.0 375.46 182.0 375.56 183.0 375.65 184.0 375.74 185.0 375.82 186.0 375.90 187.0 375.97 188.0 376.04 189.0 376.10 190.0 376.16 191.0 376.21 192.0 376.26 193.0 376.30 194.0 376.34 195.0 376.37 196.0 376.40 197.0 376.43 198.0 376.45 199.0 376.46 200.0 376.47 201.0 376.47 202.0 376.48 203.0 376.47 204.0 376.46 205.0 376.45 206.0 376.43 207.0 376.41 208.0 376.39 209.0 376.36 210.0 376.32 211.0 376.28 212.0 376.24 213.0 376.20 214.0 376.14 215.0 376.09 216.0 376.03 217.0 375.97 218.0 375.90 219.0 375.83 220.0 375.76 221.0 375.68 222.0 375.60 223.0 375.51 224.0 375.42 225.0 375.33 226.0 375.24 227.0 375.14 228.0 375.03 229.0 374.93 230.0 374.82 231.0 374.70 232.0 374.58 233.0 374.46 234.0 374.34 235.0 374.21 236.0 374.08 237.0 373.95 238.0 373.81 239.0 373.68 240.0 373.53 241.0 373.39 242.0 373.24 243.0 373.09 244.0 372.93 245.0 372.78 246.0 372.62 247.0 372.45 248.0 372.29 249.0 372.12 250.0 371.95 251.0 371.78 252.0 371.60 253.0 371.42 254.0 371.24 255.0 371.06 256.0 370.87 257.0 370.68 258.0 370.49 259.0 370.30 260.0 370.11 261.0 369.91 262.0 369.71 263.0 369.51 264.0 369.30 265.0 369.10 266.0 368.89 267.0 368.68 268.0 368.47 269.0 368.25 270.0 368.04 271.0 367.82 272.0 367.60 273.0 367.37 274.0 367.15 275.0 366.92 276.0 366.68 277.0 366.45 278.0 366.21 279.0 365.97 280.0 365.72 281.0 365.48 282.0 365.22 283.0 364.97 284.0 364.71 285.0 364.44 286.0 364.18 287.0 363.91 288.0 363.63 289.0 363.35 290.0 363.07 291.0 362.78 292.0 362.49 293.0 362.19 294.0 361.88 295.0 361.58 296.0 361.26 297.0 360.95 298.0 360.62 299.0 360.30 300.0 359.96 301.0 359.62 302.0 359.28 303.0 358.93 304.0 358.57 305.0 358.21 306.0 357.84 307.0 357.47 308.0 357.09 309.0 356.70 310.0 356.31 311.0 355.91 312.0 355.50 313.0 355.09 314.0 354.67 315.0 354.24 316.0 353.81 317.0 353.37 318.0 352.92 319.0 352.47 320.0 352.00 321.0 351.53 322.0 351.06 323.0 350.57 324.0 350.08 325.0 349.57 326.0 349.06 327.0 348.55 328.0 348.02 329.0 347.48 330.0 346.94 331.0 346.39 332.0 345.83 333.0 345.26 334.0 344.68 335.0 344.09 336.0 343.50 337.0 342.89 338.0 342.28 339.0 341.66 340.0 341.03 341.0 340.39 342.0 339.74 343.0 339.09 344.0 338.42 345.0 337.75 346.0 337.07 347.0 336.39 348.0 335.69 349.0 334.99 350.0 334.28 351.0 333.56 352.0 332.83 353.0 332.10 354.0 331.35 355.0 330.60 356.0 329.85 357.0 329.08 358.0 328.31 359.0 327.54 360.0 326.75 361.0 325.96 362.0 325.16 363.0 324.35 364.0 323.54 365.0 322.72 366.0 321.90 367.0 321.06 368.0 320.23 369.0 319.38 370.0 318.53 371.0 317.67 372.0 316.81 373.0 315.94 374.0 315.06 375.0 314.18 376.0 313.29 377.0 312.40 378.0 311.50 379.0 310.59 380.0 309.68 381.0 308.77 382.0 307.84 383.0 306.92 384.0 305.98 385.0 305.05 386.0 304.10 387.0 303.16 388.0 302.20 389.0 301.24 390.0 300.28 391.0 299.31 392.0 298.34 393.0 297.37 394.0 296.38 395.0 295.40 396.0 294.41 397.0 293.41 398.0 292.41 399.0 291.41 400.0 290.40 401.0 289.39 402.0 288.38 403.0 287.36 404.0 286.33 405.0 285.31 406.0 284.27 407.0 283.24 408.0 282.20 409.0 281.16 410.0 280.12 411.0 279.07 412.0 278.02 413.0 276.96 414.0 275.90 415.0 274.84 416.0 273.78 417.0 272.71 418.0 271.64 419.0 270.57 420.0 269.49 421.0 268.42 422.0 267.34 423.0 266.25 424.0 265.17 425.0 264.08 426.0 262.99 427.0 261.90 428.0 260.80 429.0 259.71 430.0 258.61 431.0 257.51 432.0 256.41 433.0 255.31 434.0 254.20 435.0 253.10 436.0 252.00 437.0 250.90 438.0 249.79 439.0 248.69 440.0 247.60 441.0 246.50 442.0 245.41 443.0 244.32 444.0 243.23 445.0 242.14 446.0 241.06 447.0 239.99 448.0 238.92 449.0 237.85 450.0 236.79 451.0 235.74 452.0 234.69 453.0 233.65 454.0 232.62 455.0 231.59 456.0 230.57 457.0 229.56 458.0 228.56 459.0 227.57 460.0 226.58 461.0 225.61 462.0 224.65 463.0 223.69 464.0 222.75 465.0 221.82 466.0 220.90 467.0 220.00 468.0 219.10 469.0 218.22 470.0 217.35 471.0 216.50 472.0 215.66 473.0 214.83 474.0 214.02 475.0 213.23 476.0 212.45 477.0 211.68 478.0 210.93 479.0 210.20 480.0 209.49 481.0 208.79 482.0 208.11 483.0 207.44 484.0 206.79 485.0 206.16 486.0 205.54 487.0 204.94 488.0 204.36 489.0 203.79 490.0 203.24 491.0 202.71 492.0 202.19 493.0 201.69 494.0 201.20 495.0 200.73 496.0 200.28 497.0 199.84 498.0 199.42 499.0 199.02 500.0 198.63 501.0 198.26 502.0 197.90 503.0 197.56 504.0 197.24 505.0 196.93 506.0 196.64 507.0 196.36 508.0 196.10 509.0 195.86 510.0 195.63 511.0 195.42 512.0 195.22 513.0 195.05 514.0 194.88 515.0 194.73 516.0 194.60 517.0 194.48 518.0 194.38 519.0 194.30 520.0 194.23 521.0 194.18 522.0 194.14 523.0 194.12 524.0 194.11 525.0 194.12 526.0 194.15 527.0 194.19 528.0 194.25 529.0 194.32 530.0 194.41 531.0 194.51 532.0 194.63 533.0 194.76 534.0 194.92 535.0 195.08 536.0 195.26 537.0 195.46 538.0 195.67 539.0 195.90 540.0 196.14 541.0 196.40 542.0 196.67 543.0 196.96 544.0 197.27 545.0 197.59 546.0 197.92 547.0 198.27 548.0 198.64 549.0 199.02 550.0 199.42 551.0 199.83 552.0 200.25 553.0 200.70 554.0 201.15 555.0 201.62 556.0 202.11 557.0 202.61 558.0 203.13 559.0 203.66 560.0 204.21 561.0 204.77 562.0 205.35 563.0 205.94 564.0 206.55 565.0 207.17 566.0 207.81 567.0 208.46 568.0 209.13 569.0 209.81 570.0 210.51 571.0 211.22 572.0 211.94 573.0 212.68 574.0 213.44 575.0 214.21 576.0 215.00 577.0 215.80 578.0 216.61 579.0 217.43 580.0 218.28 581.0 219.13 582.0 219.99 583.0 220.87 584.0 221.76 585.0 222.67 586.0 223.58 587.0 224.51 588.0 225.44 589.0 226.39 590.0 227.35 591.0 228.32 592.0 229.30 593.0 230.28 594.0 231.28 595.0 232.29 596.0 233.31 597.0 234.33 598.0 235.36 599.0 236.40 600.0 237.45 601.0 238.51 602.0 239.57 603.0 240.64 604.0 241.72 605.0 242.80 606.0 243.89 607.0 244.99 608.0 246.09 609.0 247.20 610.0 248.31 611.0 249.42 612.0 250.54 613.0 251.67 614.0 252.80 615.0 253.93 616.0 255.07 617.0 256.20 618.0 257.35 619.0 258.49 620.0 259.64 621.0 260.79 622.0 261.94 623.0 263.09 624.0 264.24 625.0 265.39 626.0 266.55 627.0 267.70 628.0 268.86 629.0 270.02 630.0 271.17 631.0 272.33 632.0 273.49 633.0 274.64 634.0 275.80 635.0 276.96 636.0 278.11 637.0 279.27 638.0 280.42 639.0 281.58 640.0 282.73 641.0 283.88 642.0 285.03 643.0 286.18 644.0 287.32 645.0 288.47 646.0 289.61 647.0 290.75 648.0 291.88 649.0 293.02 650.0 294.15 651.0 295.28 652.0 296.40 653.0 297.53 654.0 298.65 655.0 299.76 656.0 300.88 657.0 301.99 658.0 303.09 659.0 304.19 660.0 305.29 661.0 306.38 662.0 307.47 663.0 308.55 664.0 309.63 665.0 310.70 666.0 311.77 667.0 312.83 668.0 313.89 669.0 314.94 670.0 315.99 671.0 317.03 672.0 318.06 673.0 319.09 674.0 320.11 675.0 321.13 676.0 322.14 677.0 323.14 678.0 324.14 679.0 325.12 680.0 326.10 681.0 327.08 682.0 328.04 683.0 329.00 684.0 329.95 685.0 330.89" stroke="#000000" stroke-width="2.9"/>
<path d="M79.0 200.33 80.0 201.89 81.0 203.44 82.0 204.98 83.0 206.51 84.0 208.04 85.0 209.55 86.0 211.05 87.0 212.55 88.0 214.03 89.0 215.50 90.0 216.97 91.0 218.43 92.0 219.87 93.0 221.31 94.0 222.74 95.0 224.16 96.0 225.57 97.0 226.97 98.0 228.36 99.0 229.74 100.0 231.11 101.0 232.47 102.0 233.83 103.0 235.17 104.0 236.50 105.0 237.83 106.0 239.14 107.0 240.45 108.0 241.75 109.0 243.03 110.0 244.31 111.0 245.58 112.0 246.84 113.0 248.09 114.0 249.33 115.0 250.56 116.0 251.78 117.0 252.99 118.0 254.19 119.0 255.39 120.0 256.57 121.0 257.75 122.0 258.91 123.0 260.07 124.0 261.21 125.0 262.35 126.0 263.48 127.0 264.59 128.0 265.70 129.0 266.80 130.0 267.89 131.0 268.97 132.0 270.04 133.0 271.10 134.0 272.16 135.0 273.20 136.0 274.23 137.0 275.25 138.0 276.27 139.0 277.27 140.0 278.27 141.0 279.26 142.0 280.23 143.0 281.20 144.0 282.16 145.0 283.11 146.0 284.04 147.0 284.97 148.0 285.89 149.0 286.81 150.0 287.71 151.0 288.60 152.0 289.48 153.0 290.35 154.0 291.22 155.0 292.07 156.0 292.92 157.0 293.75 158.0 294.58 159.0 295.39 160.0 296.20 161.0 297.00 162.0 297.79 163.0 298.57 164.0 299.33 165.0 300.09 166.0 300.84 167.0 301.59 168.0 302.32 169.0 303.04 170.0 303.75 171.0 304.45 172.0 305.15 173.0 305.83 174.0 306.51 175.0 307.17 176.0 307.83 177.0 308.47 178.0 309.11 179.0 309.73 180.0 310.35 181.0 310.96 182.0 311.55 183.0 312.14 184.0 312.72 185.0 313.29 186.0 313.85 187.0 314.39 188.0 314.93 189.0 315.46 190.0 315.98 191.0 316.49 192.0 316.99 193.0 317.48 194.0 317.96 195.0 318.43 196.0 318.89 197.0 319.34 198.0 319.78 199.0 320.21 200.0 320.63 201.0 321.04 202.0 321.43 203.0 321.82 204.0 322.20 205.0 322.57 206.0 322.93 207.0 323.28 208.0 323.62 209.0 323.95 210.0 324.27 211.0 324.58 212.0 324.88 213.0 325.17 214.0 325.44 215.0 325.71 216.0 325.97 217.0 326.22 218.0 326.45 219.0 326.68 220.0 326.90 221.0 327.10 222.0 327.30 223.0 327.48 224.0 327.66 225.0 327.82 226.0 327.98 227.0 328.12 228.0 328.25 229.0 328.38 230.0 328.49 231.0 328.59 232.0 328.68 233.0 328.76 234.0 328.83 235.0 328.89 236.0 328.94 237.0 328.98 238.0 329.01 239.0 329.02 240.0 329.03 241.0 329.03 242.0 329.01 243.0 328.99 244.0 328.95 245.0 328.90 246.0 328.84 247.0 328.78 248.0 328.70 249.0 328.61 250.0 328.50 251.0 328.39 252.0 328.27 253.0 328.14 254.0 327.99 255.0 327.84 256.0 327.67 257.0 327.49 258.0 327.31 259.0 327.11 260.0 326.90 261.0 326.67 262.0 326.44 263.0 326.20 264.0 325.95 265.0 325.68 266.0 325.40 267.0 325.12 268.0 324.82 269.0 324.51 270.0 324.19 271.0 323.86 272.0 323.51 273.0 323.16 274.0 322.79 275.0 322.42 276.0 322.03 277.0 321.63 278.0 321.22 279.0 320.80 280.0 320.36 281.0 319.92 282.0 319.46 283.0 318.99 284.0 318.52 285.0 318.03 286.0 317.52 287.0 317.01 288.0 316.49 289.0 315.95 290.0 315.40 291.0 314.85 292.0 314.27 293.0 313.69 294.0 313.10 295.0 312.49 296.0 311.88 297.0 311.25 298.0 310.61 299.0 309.96 300.0 309.30 301.0 308.62 302.0 307.94 303.0 307.24 304.0 306.53 305.0 305.81 306.0 305.07 307.0 304.33 308.0 303.57 309.0 302.80 310.0 302.02 311.0 301.23 312.0 300.43 313.0 299.61 314.0 298.78 315.0 297.94 316.0 297.09 317.0 296.23 318.0 295.35 319.0 294.47 320.0 293.57 321.0 292.66 322.0 291.73 323.0 290.80 324.0 289.85 325.0 288.89 326.0 287.92 327.0 286.94 328.0 285.94 329.0 284.93 330.0 283.91 331.0 282.88 332.0 281.84 333.0 280.78 334.0 279.71 335.0 278.63 336.0 277.54 337.0 276.43 338.0 275.32 339.0 274.19 340.0 273.05 341.0 271.90 342.0 270.73 343.0 269.55 344.0 268.37 345.0 267.17 346.0 265.96 347.0 264.73 348.0 263.50 349.0 262.25 350.0 261.00 351.0 259.73 352.0 258.45 353.0 257.16 354.0 255.86 355.0 254.55 356.0 253.22 357.0 251.89 358.0 250.54 359.0 249.18 360.0 247.82 361.0 246.44 362.0 245.05 363.0 243.65 364.0 242.24 365.0 240.82 366.0 239.39 367.0 237.94 368.0 236.49 369.0 235.03 370.0 233.56 371.0 232.07 372.0 230.58 373.0 229.08 374.0 227.56 375.0 226.04 376.0 224.51 377.0 222.96 378.0 221.41 379.0 219.84 380.0 218.27 381.0 216.69 382.0 215.10 383.0 213.49 384.0 211.88 385.0 210.26 386.0 208.63 387.0 207.00 388.0 205.35 389.0 203.70 390.0 202.03 391.0 200.36 392.0 198.69 393.0 197.00 394.0 195.31 395.0 193.61 396.0 191.91 397.0 190.20 398.0 188.48 399.0 186.76 400.0 185.03 401.0 183.29 402.0 181.56 403.0 179.81 404.0 178.06 405.0 176.31 406.0 174.55 407.0 172.79 408.0 171.03 409.0 169.26 410.0 167.49 411.0 165.71 412.0 163.94 413.0 162.16 414.0 160.37 415.0 158.59 416.0 156.80 417.0 155.01 418.0 153.22 419.0 151.43 420.0 149.64 421.0 147.85 422.0 146.06 423.0 144.26 424.0 142.47 425.0 140.68 426.0 138.88 427.0 137.09 428.0 135.30 429.0 133.51 430.0 131.72 431.0 129.93 432.0 128.15 433.0 126.36 434.0 124.58 435.0 122.81 436.0 121.03 437.0 119.26 438.0 117.49 439.0 115.73 440.0 113.97 441.0 112.22 442.0 110.47 443.0 108.73 444.0 106.99 445.0 105.26 446.0 103.53 447.0 101.82 448.0 100.10 449.0 98.40 450.0 96.70 451.0 95.02 452.0 93.34 453.0 91.67 454.0 90.00 455.0 88.35 456.0 86.71 457.0 85.08 458.0 83.45 459.0 81.84 460.0 80.24 461.0 78.65 462.0 77.07 463.0 75.50 464.0 73.95 465.0 72.41 466.0 70.88 467.0 69.36 468.0 67.86 469.0 66.37 470.0 64.90 471.0 63.44 472.0 61.99 473.0 60.56 474.0 59.15 475.0 57.75 476.0 56.37 477.0 55.00 478.0 53.65 479.0 52.32 480.0 51.00 481.0 49.70 482.0 48.42 483.0 47.16 484.0 45.91 485.0 44.69 486.0 43.48 487.0 42.29 488.0 41.12 489.0 39.97 490.0 38.83 491.0 37.72 492.0 36.63 493.0 35.55 494.0 34.50 495.0 33.46 496.0 32.45 497.0 31.46 498.0 30.48 499.0 29.53 500.0 28.60 501.0 27.69 502.0 26.81 503.0 25.94 504.0 25.10 505.0 24.28 506.0 23.48 507.0 22.70 508.0 21.95 509.0 21.22 510.0 20.51 511.0 19.83 512.0 19.17 513.0 18.53 514.0 17.92 515.0 17.33 516.0 16.76 517.0 16.22 518.0 15.71 519.0 15.22 520.0 14.76 521.0 14.32 522.0 13.90 523.0 13.51 524.0 13.15 525.0 12.82 526.0 12.51 527.0 12.22 528.0 11.97 529.0 11.74 530.0 11.54 531.0 11.36 532.0 11.21 533.0 11.09 534.0 11.00 535.0 10.94 536.0 10.91 537.0 10.90 538.0 10.92 539.0 10.97 540.0 11.05 541.0 11.16 542.0 11.30 543.0 11.46 544.0 11.66 545.0 11.88 546.0 12.12 547.0 12.40 548.0 12.70 549.0 13.03 550.0 13.38 551.0 13.76 552.0 14.17 553.0 14.60 554.0 15.05 555.0 15.54 556.0 16.04 557.0 16.57 558.0 17.13 559.0 17.71 560.0 18.31 561.0 18.94 562.0 19.59 563.0 20.26 564.0 20.96 565.0 21.68 566.0 22.42 567.0 23.19 568.0 23.97 569.0 24.78 570.0 25.61 571.0 26.46 572.0 27.33 573.0 28.22 574.0 29.14 575.0 30.07 576.0 31.02 577.0 31.99 578.0 32.99 579.0 34.00 580.0 35.03 581.0 36.08 582.0 37.15 583.0 38.23 584.0 39.34 585.0 40.46 586.0 41.60 587.0 42.76 588.0 43.93 589.0 45.12 590.0 46.33 591.0 47.55 592.0 48.79 593.0 50.05 594.0 51.32 595.0 52.61 596.0 53.91 597.0 55.23 598.0 56.56 599.0 57.91 600.0 59.27 601.0 60.64 602.0 62.03 603.0 63.43 604.0 64.85 605.0 66.27 606.0 67.72 607.0 69.17 608.0 70.63 609.0 72.11 610.0 73.60 611.0 75.10 612.0 76.62 613.0 78.14 614.0 79.67 615.0 81.22 616.0 82.77 617.0 84.34 618.0 85.91 619.0 87.50 620.0 89.09 621.0 90.70 622.0 92.31 623.0 93.93 624.0 95.56 625.0 97.20 626.0 98.84 627.0 100.49 628.0 102.15 629.0 103.82 630.0 105.50 631.0 107.18 632.0 108.86 633.0 110.56 634.0 112.26 635.0 113.96 636.0 115.68 637.0 117.39 638.0 119.11 639.0 120.84 640.0 122.57 641.0 124.31 642.0 126.05 643.0 127.79 644.0 129.53 645.0 131.28 646.0 133.04 647.0 134.79 648.0 136.55 649.0 138.31 650.0 140.08 651.0 141.84 652.0 143.61 653.0 145.37 654.0 147.14 655.0 148.91 656.0 150.68 657.0 152.46 658.0 154.23 659.0 156.00 660.0 157.77 661.0 159.54 662.0 161.31 663.0 163.08 664.0 164.84 665.0 166.61 666.0 168.37 667.0 170.14 668.0 171.90 669.0 173.65 670.0 175.41 671.0 177.16 672.0 178.91 673.0 180.65 674.0 182.39 675.0 184.13 676.0 185.86 677.0 187.59 678.0 189.32 679.0 191.04 680.0 192.75 681.0 194.46 682.0 196.16 683.0 197.86 684.0 199.55 685.0 201.23" stroke="#6a6a6a" stroke-width="2.4" stroke-dasharray="4.0 3.5"/>
<path d="M79.0 200.37 80.0 201.92 81.0 203.45 82.0 204.97 83.0 206.49 84.0 207.99 85.0 209.49 86.0 210.98 87.0 212.46 88.0 213.93 89.0 215.39 90.0 216.85 91.0 218.29 92.0 219.73 93.0 221.16 94.0 222.58 95.0 223.99 96.0 225.39 97.0 226.78 98.0 228.16 99.0 229.54 100.0 230.91 101.0 232.26 102.0 233.61 103.0 234.95 104.0 236.28 105.0 237.60 106.0 238.91 107.0 240.22 108.0 241.51 109.0 242.80 110.0 244.08 111.0 245.34 112.0 246.60 113.0 247.85 114.0 249.09 115.0 250.33 116.0 251.55 117.0 252.76 118.0 253.97 119.0 255.16 120.0 256.35 121.0 257.53 122.0 258.69 123.0 259.85 124.0 261.00 125.0 262.14 126.0 263.27 127.0 264.40 128.0 265.51 129.0 266.61 130.0 267.71 131.0 268.79 132.0 269.87 133.0 270.94 134.0 271.99 135.0 273.04 136.0 274.08 137.0 275.11 138.0 276.13 139.0 277.14 140.0 278.14 141.0 279.14 142.0 280.12 143.0 281.09 144.0 282.06 145.0 283.01 146.0 283.96 147.0 284.89 148.0 285.82 149.0 286.74 150.0 287.64 151.0 288.54 152.0 289.43 153.0 290.31 154.0 291.18 155.0 292.04 156.0 292.89 157.0 293.73 158.0 294.56 159.0 295.38 160.0 296.20 161.0 297.00 162.0 297.79 163.0 298.57 164.0 299.35 165.0 300.11 166.0 300.87 167.0 301.61 168.0 302.35 169.0 303.07 170.0 303.79 171.0 304.49 172.0 305.19 173.0 305.87 174.0 306.55 175.0 307.22 176.0 307.87 177.0 308.52 178.0 309.16 179.0 309.79 180.0 310.40 181.0 311.01 182.0 311.61 183.0 312.20 184.0 312.77 185.0 313.34 186.0 313.90 187.0 314.45 188.0 314.99 189.0 315.52 190.0 316.03 191.0 316.54 192.0 317.04 193.0 317.53 194.0 318.01 195.0 318.48 196.0 318.93 197.0 319.38 198.0 319.82 199.0 320.25 200.0 320.67 201.0 321.07 202.0 321.47 203.0 321.86 204.0 322.24 205.0 322.60 206.0 322.96 207.0 323.31 208.0 323.65 209.0 323.97 210.0 324.29 211.0 324.59 212.0 324.89 213.0 325.18 214.0 325.45 215.0 325.72 216.0 325.97 217.0 326.22 218.0 326.45 219.0 326.67 220.0 326.89 221.0 327.09 222.0 327.28 223.0 327.47 224.0 327.64 225.0 327.80 226.0 327.95 227.0 328.09 228.0 328.22 229.0 328.34 230.0 328.45 231.0 328.55 232.0 328.64 233.0 328.72 234.0 328.78 235.0 328.84 236.0 328.89 237.0 328.92 238.0 328.95 239.0 328.96 240.0 328.97 241.0 328.96 242.0 328.94 243.0 328.92 244.0 328.88 245.0 328.83 246.0 328.77 247.0 328.70 248.0 328.62 249.0 328.52 250.0 328.42 251.0 328.31 252.0 328.18 253.0 328.05 254.0 327.90 255.0 327.75 256.0 327.58 257.0 327.40 258.0 327.21 259.0 327.02 260.0 326.81 261.0 326.58 262.0 326.35 263.0 326.11 264.0 325.86 265.0 325.59 266.0 325.31 267.0 325.03 268.0 324.73 269.0 324.42 270.0 324.10 271.0 323.77 272.0 323.43 273.0 323.08 274.0 322.72 275.0 322.34 276.0 321.96 277.0 321.56 278.0 321.15 279.0 320.73 280.0 320.30 281.0 319.86 282.0 319.41 283.0 318.95 284.0 318.47 285.0 317.99 286.0 317.49 287.0 316.98 288.0 316.47 289.0 315.94 290.0 315.39 291.0 314.84 292.0 314.28 293.0 313.70 294.0 313.12 295.0 312.52 296.0 311.91 297.0 311.29 298.0 310.66 299.0 310.02 300.0 309.36 301.0 308.70 302.0 308.02 303.0 307.33 304.0 306.63 305.0 305.92 306.0 305.20 307.0 304.47 308.0 303.72 309.0 302.97 310.0 302.20 311.0 301.42 312.0 300.63 313.0 299.83 314.0 299.01 315.0 298.19 316.0 297.35 317.0 296.50 318.0 295.64 319.0 294.77 320.0 293.89 321.0 292.99 322.0 292.08 323.0 291.17 324.0 290.24 325.0 289.30 326.0 288.34 327.0 287.38 328.0 286.40 329.0 285.41 330.0 284.41 331.0 283.40 332.0 282.38 333.0 281.34 334.0 280.30 335.0 279.24 336.0 278.17 337.0 277.09 338.0 276.00 339.0 274.89 340.0 273.78 341.0 272.65 342.0 271.51 343.0 270.36 344.0 269.20 345.0 268.03 346.0 266.85 347.0 265.66 348.0 264.46 349.0 263.25 350.0 262.03 351.0 260.79 352.0 259.55 353.0 258.30 354.0 257.04 355.0 255.77 356.0 254.48 357.0 253.19 358.0 251.89 359.0 250.58 360.0 249.26 361.0 247.93 362.0 246.59 363.0 245.25 364.0 243.89 365.0 242.53 366.0 241.15 367.0 239.77 368.0 238.38 369.0 236.98 370.0 235.57 371.0 234.16 372.0 232.73 373.0 231.30 374.0 229.86 375.0 228.41 376.0 226.95 377.0 225.49 378.0 224.02 379.0 222.54 380.0 221.05 381.0 219.56 382.0 218.06 383.0 216.55 384.0 215.04 385.0 213.51 386.0 211.98 387.0 210.45 388.0 208.91 389.0 207.36 390.0 205.80 391.0 204.24 392.0 202.67 393.0 201.10 394.0 199.52 395.0 197.93 396.0 196.34 397.0 194.74 398.0 193.13 399.0 191.52 400.0 189.91 401.0 188.29 402.0 186.66 403.0 185.03 404.0 183.39 405.0 181.75 406.0 180.11 407.0 178.45 408.0 176.80 409.0 175.14 410.0 173.47 411.0 171.80 412.0 170.13 413.0 168.45 414.0 166.76 415.0 165.08 416.0 163.38 417.0 161.69 418.0 159.99 419.0 158.29 420.0 156.58 421.0 154.87 422.0 153.16 423.0 151.44 424.0 149.72 425.0 148.00 426.0 146.27 427.0 144.54 428.0 142.81 429.0 141.07 430.0 139.33 431.0 137.59 432.0 135.85 433.0 134.11 434.0 132.36 435.0 130.61 436.0 128.87 437.0 127.12 438.0 125.38 439.0 123.63 440.0 121.89 441.0 120.15 442.0 118.41 443.0 116.68 444.0 114.95 445.0 113.22 446.0 111.49 447.0 109.77 448.0 108.06 449.0 106.35 450.0 104.65 451.0 102.95 452.0 101.27 453.0 99.58 454.0 97.91 455.0 96.25 456.0 94.59 457.0 92.94 458.0 91.30 459.0 89.68 460.0 88.06 461.0 86.45 462.0 84.86 463.0 83.27 464.0 81.70 465.0 80.15 466.0 78.60 467.0 77.07 468.0 75.55 469.0 74.05 470.0 72.56 471.0 71.09 472.0 69.64 473.0 68.20 474.0 66.77 475.0 65.37 476.0 63.98 477.0 62.61 478.0 61.26 479.0 59.93 480.0 58.61 481.0 57.32 482.0 56.04 483.0 54.79 484.0 53.55 485.0 52.34 486.0 51.14 487.0 49.96 488.0 48.81 489.0 47.67 490.0 46.56 491.0 45.46 492.0 44.39 493.0 43.33 494.0 42.30 495.0 41.29 496.0 40.30 497.0 39.33 498.0 38.39 499.0 37.46 500.0 36.56 501.0 35.68 502.0 34.82 503.0 33.98 504.0 33.16 505.0 32.37 506.0 31.60 507.0 30.85 508.0 30.13 509.0 29.43 510.0 28.75 511.0 28.10 512.0 27.47 513.0 26.86 514.0 26.27 515.0 25.72 516.0 25.18 517.0 24.67 518.0 24.18 519.0 23.72 520.0 23.28 521.0 22.86 522.0 22.48 523.0 22.11 524.0 21.77 525.0 21.46 526.0 21.17 527.0 20.91 528.0 20.67 529.0 20.46 530.0 20.28 531.0 20.12 532.0 19.98 533.0 19.88 534.0 19.80 535.0 19.74 536.0 19.72 537.0 19.72 538.0 19.74 539.0 19.80 540.0 19.88 541.0 19.99 542.0 20.12 543.0 20.28 544.0 20.46 545.0 20.67 546.0 20.91 547.0 21.17 548.0 21.46 549.0 21.77 550.0 22.10 551.0 22.46 552.0 22.84 553.0 23.25 554.0 23.68 555.0 24.14 556.0 24.61 557.0 25.11 558.0 25.64 559.0 26.18 560.0 26.75 561.0 27.34 562.0 27.95 563.0 28.59 564.0 29.24 565.0 29.92 566.0 30.62 567.0 31.33 568.0 32.07 569.0 32.83 570.0 33.61 571.0 34.41 572.0 35.23 573.0 36.07 574.0 36.93 575.0 37.80 576.0 38.70 577.0 39.61 578.0 40.55 579.0 41.50 580.0 42.47 581.0 43.46 582.0 44.46 583.0 45.48 584.0 46.52 585.0 47.58 586.0 48.65 587.0 49.74 588.0 50.85 589.0 51.97 590.0 53.11 591.0 54.26 592.0 55.43 593.0 56.62 594.0 57.82 595.0 59.03 596.0 60.26 597.0 61.51 598.0 62.76 599.0 64.03 600.0 65.32 601.0 66.62 602.0 67.93 603.0 69.26 604.0 70.60 605.0 71.95 606.0 73.31 607.0 74.69 608.0 76.07 609.0 77.47 610.0 78.89 611.0 80.31 612.0 81.74 613.0 83.19 614.0 84.64 615.0 86.11 616.0 87.58 617.0 89.07 618.0 90.57 619.0 92.07 620.0 93.59 621.0 95.12 622.0 96.65 623.0 98.19 624.0 99.74 625.0 101.30 626.0 102.87 627.0 104.45 628.0 106.03 629.0 107.62 630.0 109.22 631.0 110.83 632.0 112.44 633.0 114.06 634.0 115.69 635.0 117.32 636.0 118.96 637.0 120.60 638.0 122.25 639.0 123.90 640.0 125.57 641.0 127.23 642.0 128.90 643.0 130.57 644.0 132.25 645.0 133.94 646.0 135.62 647.0 137.31 648.0 139.01 649.0 140.71 650.0 142.41 651.0 144.11 652.0 145.82 653.0 147.52 654.0 149.23 655.0 150.95 656.0 152.66 657.0 154.38 658.0 156.09 659.0 157.81 660.0 159.53 661.0 161.25 662.0 162.97 663.0 164.69 664.0 166.41 665.0 168.13 666.0 169.85 667.0 171.57 668.0 173.29 669.0 175.01 670.0 176.73 671.0 178.44 672.0 180.15 673.0 181.86 674.0 183.57 675.0 185.28 676.0 186.99 677.0 188.69 678.0 190.39 679.0 192.08 680.0 193.77 681.0 195.46 682.0 197.15 683.0 198.83 684.0 200.51 685.0 202.18" stroke="#3a88c0" stroke-width="1.8" stroke-dasharray="4.0 3.5"/>
<path d="M79.0 208.14 80.0 209.39 81.0 210.67 82.0 211.96 83.0 213.26 84.0 214.59 85.0 215.93 86.0 217.28 87.0 218.64 88.0 220.02 89.0 221.40 90.0 222.80 91.0 224.20 92.0 225.61 93.0 227.02 94.0 228.44 95.0 229.87 96.0 231.29 97.0 232.71 98.0 234.14 99.0 235.56 100.0 236.98 101.0 238.40 102.0 239.81 103.0 241.22 104.0 242.61 105.0 244.00 106.0 245.38 107.0 246.75 108.0 248.11 109.0 249.45 110.0 250.78 111.0 252.10 112.0 253.40 113.0 254.68 114.0 255.94 115.0 257.18 116.0 258.40 117.0 259.60 118.0 260.78 119.0 261.94 120.0 263.08 121.0 264.20 122.0 265.31 123.0 266.40 124.0 267.47 125.0 268.53 126.0 269.58 127.0 270.61 128.0 271.63 129.0 272.63 130.0 273.63 131.0 274.61 132.0 275.58 133.0 276.54 134.0 277.50 135.0 278.44 136.0 279.38 137.0 280.31 138.0 281.24 139.0 282.16 140.0 283.07 141.0 283.98 142.0 284.89 143.0 285.79 144.0 286.69 145.0 287.58 146.0 288.47 147.0 289.35 148.0 290.22 149.0 291.09 150.0 291.96 151.0 292.82 152.0 293.67 153.0 294.51 154.0 295.35 155.0 296.18 156.0 297.00 157.0 297.81 158.0 298.61 159.0 299.41 160.0 300.20 161.0 300.97 162.0 301.74 163.0 302.50 164.0 303.25 165.0 303.98 166.0 304.71 167.0 305.42 168.0 306.13 169.0 306.82 170.0 307.50 171.0 308.18 172.0 308.84 173.0 309.49 174.0 310.13 175.0 310.76 176.0 311.38 177.0 311.99 178.0 312.59 179.0 313.18 180.0 313.75 181.0 314.32 182.0 314.88 183.0 315.43 184.0 315.96 185.0 316.49 186.0 317.01 187.0 317.51 188.0 318.01 189.0 318.49 190.0 318.97 191.0 319.43 192.0 319.89 193.0 320.33 194.0 320.77 195.0 321.20 196.0 321.61 197.0 322.02 198.0 322.41 199.0 322.80 200.0 323.18 201.0 323.54 202.0 323.90 203.0 324.25 204.0 324.58 205.0 324.91 206.0 325.23 207.0 325.54 208.0 325.84 209.0 326.12 210.0 326.40 211.0 326.67 212.0 326.94 213.0 327.19 214.0 327.43 215.0 327.66 216.0 327.88 217.0 328.10 218.0 328.30 219.0 328.50 220.0 328.68 221.0 328.86 222.0 329.03 223.0 329.19 224.0 329.34 225.0 329.48 226.0 329.61 227.0 329.73 228.0 329.84 229.0 329.95 230.0 330.04 231.0 330.13 232.0 330.21 233.0 330.28 234.0 330.34 235.0 330.39 236.0 330.43 237.0 330.46 238.0 330.49 239.0 330.51 240.0 330.51 241.0 330.51 242.0 330.50 243.0 330.48 244.0 330.45 245.0 330.42 246.0 330.37 247.0 330.31 248.0 330.25 249.0 330.18 250.0 330.09 251.0 330.00 252.0 329.90 253.0 329.79 254.0 329.67 255.0 329.54 256.0 329.40 257.0 329.25 258.0 329.09 259.0 328.93 260.0 328.75 261.0 328.56 262.0 328.36 263.0 328.16 264.0 327.94 265.0 327.72 266.0 327.48 267.0 327.23 268.0 326.98 269.0 326.71 270.0 326.44 271.0 326.15 272.0 325.85 273.0 325.55 274.0 325.23 275.0 324.90 276.0 324.57 277.0 324.22 278.0 323.86 279.0 323.49 280.0 323.12 281.0 322.73 282.0 322.33 283.0 321.92 284.0 321.50 285.0 321.06 286.0 320.62 287.0 320.17 288.0 319.70 289.0 319.23 290.0 318.74 291.0 318.25 292.0 317.74 293.0 317.22 294.0 316.69 295.0 316.15 296.0 315.60 297.0 315.04 298.0 314.46 299.0 313.88 300.0 313.28 301.0 312.67 302.0 312.05 303.0 311.42 304.0 310.78 305.0 310.13 306.0 309.46 307.0 308.78 308.0 308.10 309.0 307.40 310.0 306.68 311.0 305.96 312.0 305.22 313.0 304.48 314.0 303.72 315.0 302.95 316.0 302.16 317.0 301.37 318.0 300.56 319.0 299.74 320.0 298.91 321.0 298.07 322.0 297.21 323.0 296.34 324.0 295.46 325.0 294.57 326.0 293.67 327.0 292.75 328.0 291.82 329.0 290.88 330.0 289.92 331.0 288.95 332.0 287.97 333.0 286.98 334.0 285.98 335.0 284.96 336.0 283.93 337.0 282.88 338.0 281.83 339.0 280.76 340.0 279.68 341.0 278.59 342.0 277.49 343.0 276.37 344.0 275.25 345.0 274.11 346.0 272.96 347.0 271.80 348.0 270.63 349.0 269.45 350.0 268.25 351.0 267.05 352.0 265.83 353.0 264.61 354.0 263.37 355.0 262.13 356.0 260.87 357.0 259.61 358.0 258.33 359.0 257.04 360.0 255.75 361.0 254.44 362.0 253.13 363.0 251.80 364.0 250.47 365.0 249.13 366.0 247.78 367.0 246.42 368.0 245.05 369.0 243.67 370.0 242.29 371.0 240.89 372.0 239.49 373.0 238.08 374.0 236.66 375.0 235.23 376.0 233.80 377.0 232.36 378.0 230.91 379.0 229.45 380.0 227.99 381.0 226.51 382.0 225.03 383.0 223.55 384.0 222.06 385.0 220.56 386.0 219.05 387.0 217.54 388.0 216.02 389.0 214.49 390.0 212.96 391.0 211.42 392.0 209.88 393.0 208.33 394.0 206.78 395.0 205.22 396.0 203.65 397.0 202.08 398.0 200.50 399.0 198.92 400.0 197.33 401.0 195.74 402.0 194.15 403.0 192.55 404.0 190.94 405.0 189.33 406.0 187.72 407.0 186.10 408.0 184.48 409.0 182.85 410.0 181.22 411.0 179.59 412.0 177.95 413.0 176.31 414.0 174.66 415.0 173.02 416.0 171.37 417.0 169.71 418.0 168.06 419.0 166.40 420.0 164.73 421.0 163.07 422.0 161.40 423.0 159.73 424.0 158.06 425.0 156.39 426.0 154.72 427.0 153.04 428.0 151.36 429.0 149.68 430.0 148.00 431.0 146.31 432.0 144.63 433.0 142.95 434.0 141.26 435.0 139.58 436.0 137.90 437.0 136.21 438.0 134.53 439.0 132.85 440.0 131.18 441.0 129.50 442.0 127.83 443.0 126.16 444.0 124.50 445.0 122.84 446.0 121.19 447.0 119.54 448.0 117.89 449.0 116.25 450.0 114.62 451.0 112.99 452.0 111.37 453.0 109.76 454.0 108.15 455.0 106.56 456.0 104.97 457.0 103.39 458.0 101.82 459.0 100.26 460.0 98.70 461.0 97.16 462.0 95.63 463.0 94.11 464.0 92.61 465.0 91.11 466.0 89.63 467.0 88.16 468.0 86.70 469.0 85.25 470.0 83.82 471.0 82.40 472.0 81.00 473.0 79.61 474.0 78.24 475.0 76.88 476.0 75.54 477.0 74.22 478.0 72.91 479.0 71.62 480.0 70.35 481.0 69.09 482.0 67.86 483.0 66.64 484.0 65.43 485.0 64.25 486.0 63.08 487.0 61.94 488.0 60.81 489.0 59.70 490.0 58.60 491.0 57.53 492.0 56.48 493.0 55.45 494.0 54.43 495.0 53.44 496.0 52.46 497.0 51.51 498.0 50.57 499.0 49.66 500.0 48.77 501.0 47.89 502.0 47.04 503.0 46.21 504.0 45.40 505.0 44.61 506.0 43.85 507.0 43.10 508.0 42.38 509.0 41.68 510.0 41.00 511.0 40.34 512.0 39.70 513.0 39.09 514.0 38.50 515.0 37.94 516.0 37.39 517.0 36.87 518.0 36.38 519.0 35.90 520.0 35.45 521.0 35.03 522.0 34.63 523.0 34.25 524.0 33.90 525.0 33.57 526.0 33.27 527.0 32.99 528.0 32.73 529.0 32.51 530.0 32.30 531.0 32.13 532.0 31.97 533.0 31.85 534.0 31.75 535.0 31.67 536.0 31.63 537.0 31.61 538.0 31.61 539.0 31.64 540.0 31.70 541.0 31.79 542.0 31.90 543.0 32.03 544.0 32.20 545.0 32.38 546.0 32.60 547.0 32.83 548.0 33.09 549.0 33.38 550.0 33.69 551.0 34.03 552.0 34.38 553.0 34.77 554.0 35.17 555.0 35.60 556.0 36.06 557.0 36.53 558.0 37.03 559.0 37.55 560.0 38.09 561.0 38.66 562.0 39.25 563.0 39.86 564.0 40.49 565.0 41.14 566.0 41.82 567.0 42.51 568.0 43.23 569.0 43.96 570.0 44.72 571.0 45.50 572.0 46.30 573.0 47.11 574.0 47.95 575.0 48.81 576.0 49.68 577.0 50.58 578.0 51.49 579.0 52.43 580.0 53.38 581.0 54.35 582.0 55.34 583.0 56.34 584.0 57.37 585.0 58.41 586.0 59.47 587.0 60.54 588.0 61.64 589.0 62.75 590.0 63.87 591.0 65.02 592.0 66.18 593.0 67.35 594.0 68.54 595.0 69.75 596.0 70.97 597.0 72.21 598.0 73.47 599.0 74.73 600.0 76.02 601.0 77.31 602.0 78.63 603.0 79.95 604.0 81.29 605.0 82.64 606.0 84.01 607.0 85.39 608.0 86.79 609.0 88.19 610.0 89.61 611.0 91.04 612.0 92.49 613.0 93.95 614.0 95.41 615.0 96.90 616.0 98.39 617.0 99.89 618.0 101.41 619.0 102.93 620.0 104.47 621.0 106.02 622.0 107.58 623.0 109.14 624.0 110.72 625.0 112.31 626.0 113.91 627.0 115.51 628.0 117.12 629.0 118.75 630.0 120.37 631.0 122.01 632.0 123.65 633.0 125.29 634.0 126.94 635.0 128.60 636.0 130.26 637.0 131.92 638.0 133.59 639.0 135.26 640.0 136.93 641.0 138.61 642.0 140.28 643.0 141.96 644.0 143.64 645.0 145.31 646.0 146.99 647.0 148.67 648.0 150.34 649.0 152.01 650.0 153.68 651.0 155.35 652.0 157.01 653.0 158.67 654.0 160.33 655.0 161.98 656.0 163.63 657.0 165.27 658.0 166.90 659.0 168.53 660.0 170.15 661.0 171.76 662.0 173.37 663.0 174.96 664.0 176.55 665.0 178.13 666.0 179.70 667.0 181.26 668.0 182.80 669.0 184.34 670.0 185.86 671.0 187.38 672.0 188.88 673.0 190.36 674.0 191.83 675.0 193.29 676.0 194.74 677.0 196.17 678.0 197.58 679.0 198.98 680.0 200.36 681.0 201.72 682.0 203.07 683.0 204.40 684.0 205.71 685.0 207.00" stroke="#ff7f0e" stroke-width="1.8" stroke-dasharray="4.0 3.5"/>
<path d="M79.0 218.53 80.0 219.68 81.0 220.86 82.0 222.05 83.0 223.26 84.0 224.49 85.0 225.73 86.0 226.98 87.0 228.25 88.0 229.53 89.0 230.81 90.0 232.11 91.0 233.41 92.0 234.72 93.0 236.04 94.0 237.36 95.0 238.69 96.0 240.02 97.0 241.35 98.0 242.68 99.0 244.01 100.0 245.34 101.0 246.67 102.0 247.99 103.0 249.31 104.0 250.62 105.0 251.93 106.0 253.23 107.0 254.52 108.0 255.80 109.0 257.07 110.0 258.33 111.0 259.57 112.0 260.81 113.0 262.02 114.0 263.22 115.0 264.41 116.0 265.57 117.0 266.72 118.0 267.85 119.0 268.97 120.0 270.07 121.0 271.15 122.0 272.22 123.0 273.27 124.0 274.31 125.0 275.34 126.0 276.35 127.0 277.35 128.0 278.34 129.0 279.32 130.0 280.28 131.0 281.24 132.0 282.18 133.0 283.12 134.0 284.04 135.0 284.96 136.0 285.87 137.0 286.77 138.0 287.67 139.0 288.55 140.0 289.44 141.0 290.31 142.0 291.18 143.0 292.05 144.0 292.90 145.0 293.76 146.0 294.60 147.0 295.44 148.0 296.28 149.0 297.10 150.0 297.92 151.0 298.73 152.0 299.54 153.0 300.34 154.0 301.13 155.0 301.91 156.0 302.68 157.0 303.44 158.0 304.20 159.0 304.95 160.0 305.69 161.0 306.42 162.0 307.14 163.0 307.85 164.0 308.55 165.0 309.24 166.0 309.92 167.0 310.59 168.0 311.25 169.0 311.90 170.0 312.54 171.0 313.18 172.0 313.80 173.0 314.41 174.0 315.01 175.0 315.60 176.0 316.18 177.0 316.75 178.0 317.32 179.0 317.87 180.0 318.41 181.0 318.94 182.0 319.47 183.0 319.98 184.0 320.48 185.0 320.98 186.0 321.46 187.0 321.94 188.0 322.40 189.0 322.86 190.0 323.31 191.0 323.74 192.0 324.17 193.0 324.59 194.0 325.00 195.0 325.40 196.0 325.79 197.0 326.17 198.0 326.55 199.0 326.91 200.0 327.26 201.0 327.61 202.0 327.94 203.0 328.27 204.0 328.59 205.0 328.89 206.0 329.19 207.0 329.48 208.0 329.76 209.0 330.04 210.0 330.30 211.0 330.55 212.0 330.80 213.0 331.04 214.0 331.27 215.0 331.48 216.0 331.69 217.0 331.90 218.0 332.09 219.0 332.27 220.0 332.45 221.0 332.62 222.0 332.77 223.0 332.92 224.0 333.07 225.0 333.20 226.0 333.32 227.0 333.44 228.0 333.55 229.0 333.65 230.0 333.74 231.0 333.82 232.0 333.89 233.0 333.96 234.0 334.01 235.0 334.06 236.0 334.10 237.0 334.14 238.0 334.16 239.0 334.18 240.0 334.18 241.0 334.18 242.0 334.18 243.0 334.16 244.0 334.13 245.0 334.10 246.0 334.06 247.0 334.00 248.0 333.94 249.0 333.87 250.0 333.80 251.0 333.71 252.0 333.62 253.0 333.51 254.0 333.40 255.0 333.28 256.0 333.14 257.0 333.00 258.0 332.86 259.0 332.70 260.0 332.53 261.0 332.35 262.0 332.17 263.0 331.97 264.0 331.76 265.0 331.55 266.0 331.32 267.0 331.09 268.0 330.85 269.0 330.59 270.0 330.33 271.0 330.06 272.0 329.78 273.0 329.48 274.0 329.18 275.0 328.87 276.0 328.55 277.0 328.22 278.0 327.87 279.0 327.52 280.0 327.16 281.0 326.79 282.0 326.40 283.0 326.01 284.0 325.60 285.0 325.19 286.0 324.77 287.0 324.33 288.0 323.88 289.0 323.43 290.0 322.96 291.0 322.48 292.0 321.99 293.0 321.50 294.0 320.98 295.0 320.46 296.0 319.93 297.0 319.39 298.0 318.83 299.0 318.27 300.0 317.69 301.0 317.10 302.0 316.51 303.0 315.90 304.0 315.27 305.0 314.64 306.0 314.00 307.0 313.34 308.0 312.67 309.0 311.99 310.0 311.30 311.0 310.60 312.0 309.89 313.0 309.16 314.0 308.42 315.0 307.67 316.0 306.91 317.0 306.14 318.0 305.35 319.0 304.56 320.0 303.75 321.0 302.93 322.0 302.09 323.0 301.25 324.0 300.39 325.0 299.52 326.0 298.63 327.0 297.74 328.0 296.83 329.0 295.91 330.0 294.98 331.0 294.03 332.0 293.07 333.0 292.10 334.0 291.12 335.0 290.12 336.0 289.11 337.0 288.09 338.0 287.06 339.0 286.01 340.0 284.95 341.0 283.88 342.0 282.80 343.0 281.71 344.0 280.60 345.0 279.48 346.0 278.35 347.0 277.22 348.0 276.06 349.0 274.90 350.0 273.73 351.0 272.55 352.0 271.35 353.0 270.15 354.0 268.93 355.0 267.71 356.0 266.47 357.0 265.23 358.0 263.97 359.0 262.71 360.0 261.43 361.0 260.15 362.0 258.86 363.0 257.55 364.0 256.24 365.0 254.92 366.0 253.59 367.0 252.25 368.0 250.90 369.0 249.54 370.0 248.18 371.0 246.81 372.0 245.42 373.0 244.03 374.0 242.64 375.0 241.23 376.0 239.82 377.0 238.40 378.0 236.97 379.0 235.53 380.0 234.09 381.0 232.64 382.0 231.18 383.0 229.71 384.0 228.24 385.0 226.76 386.0 225.28 387.0 223.79 388.0 222.29 389.0 220.79 390.0 219.28 391.0 217.76 392.0 216.24 393.0 214.71 394.0 213.18 395.0 211.64 396.0 210.10 397.0 208.55 398.0 206.99 399.0 205.43 400.0 203.87 401.0 202.30 402.0 200.73 403.0 199.15 404.0 197.57 405.0 195.98 406.0 194.39 407.0 192.79 408.0 191.20 409.0 189.59 410.0 187.99 411.0 186.38 412.0 184.76 413.0 183.15 414.0 181.52 415.0 179.90 416.0 178.28 417.0 176.65 418.0 175.01 419.0 173.38 420.0 171.74 421.0 170.10 422.0 168.46 423.0 166.82 424.0 165.17 425.0 163.52 426.0 161.88 427.0 160.22 428.0 158.57 429.0 156.92 430.0 155.26 431.0 153.61 432.0 151.95 433.0 150.29 434.0 148.63 435.0 146.98 436.0 145.32 437.0 143.67 438.0 142.01 439.0 140.36 440.0 138.71 441.0 137.07 442.0 135.43 443.0 133.79 444.0 132.15 445.0 130.52 446.0 128.90 447.0 127.28 448.0 125.66 449.0 124.05 450.0 122.45 451.0 120.86 452.0 119.27 453.0 117.69 454.0 116.11 455.0 114.55 456.0 112.99 457.0 111.44 458.0 109.91 459.0 108.38 460.0 106.86 461.0 105.35 462.0 103.86 463.0 102.37 464.0 100.90 465.0 99.44 466.0 97.99 467.0 96.56 468.0 95.14 469.0 93.73 470.0 92.33 471.0 90.96 472.0 89.59 473.0 88.24 474.0 86.91 475.0 85.59 476.0 84.29 477.0 83.01 478.0 81.74 479.0 80.49 480.0 79.26 481.0 78.05 482.0 76.85 483.0 75.67 484.0 74.51 485.0 73.37 486.0 72.25 487.0 71.15 488.0 70.06 489.0 69.00 490.0 67.95 491.0 66.92 492.0 65.91 493.0 64.92 494.0 63.95 495.0 63.00 496.0 62.07 497.0 61.16 498.0 60.27 499.0 59.40 500.0 58.55 501.0 57.72 502.0 56.91 503.0 56.13 504.0 55.36 505.0 54.61 506.0 53.89 507.0 53.18 508.0 52.50 509.0 51.84 510.0 51.20 511.0 50.58 512.0 49.99 513.0 49.42 514.0 48.86 515.0 48.34 516.0 47.83 517.0 47.35 518.0 46.89 519.0 46.45 520.0 46.03 521.0 45.64 522.0 45.27 523.0 44.93 524.0 44.60 525.0 44.31 526.0 44.03 527.0 43.78 528.0 43.55 529.0 43.35 530.0 43.17 531.0 43.02 532.0 42.89 533.0 42.79 534.0 42.71 535.0 42.65 536.0 42.63 537.0 42.62 538.0 42.64 539.0 42.69 540.0 42.76 541.0 42.86 542.0 42.98 543.0 43.13 544.0 43.30 545.0 43.49 546.0 43.71 547.0 43.96 548.0 44.22 549.0 44.52 550.0 44.83 551.0 45.17 552.0 45.53 553.0 45.91 554.0 46.32 555.0 46.75 556.0 47.20 557.0 47.67 558.0 48.17 559.0 48.69 560.0 49.23 561.0 49.79 562.0 50.37 563.0 50.97 564.0 51.60 565.0 52.25 566.0 52.91 567.0 53.60 568.0 54.31 569.0 55.03 570.0 55.78 571.0 56.55 572.0 57.34 573.0 58.14 574.0 58.97 575.0 59.82 576.0 60.68 577.0 61.56 578.0 62.46 579.0 63.38 580.0 64.32 581.0 65.28 582.0 66.25 583.0 67.25 584.0 68.26 585.0 69.28 586.0 70.33 587.0 71.39 588.0 72.47 589.0 73.57 590.0 74.68 591.0 75.81 592.0 76.95 593.0 78.11 594.0 79.29 595.0 80.48 596.0 81.69 597.0 82.91 598.0 84.15 599.0 85.41 600.0 86.67 601.0 87.96 602.0 89.26 603.0 90.57 604.0 91.89 605.0 93.23 606.0 94.59 607.0 95.96 608.0 97.34 609.0 98.73 610.0 100.14 611.0 101.56 612.0 102.99 613.0 104.44 614.0 105.90 615.0 107.37 616.0 108.85 617.0 110.35 618.0 111.85 619.0 113.37 620.0 114.90 621.0 116.44 622.0 118.00 623.0 119.56 624.0 121.13 625.0 122.72 626.0 124.31 627.0 125.91 628.0 127.52 629.0 129.14 630.0 130.77 631.0 132.40 632.0 134.04 633.0 135.68 634.0 137.34 635.0 138.99 636.0 140.65 637.0 142.32 638.0 143.99 639.0 145.66 640.0 147.34 641.0 149.01 642.0 150.69 643.0 152.38 644.0 154.06 645.0 155.74 646.0 157.42 647.0 159.10 648.0 160.78 649.0 162.46 650.0 164.14 651.0 165.81 652.0 167.48 653.0 169.15 654.0 170.82 655.0 172.47 656.0 174.13 657.0 175.78 658.0 177.42 659.0 179.06 660.0 180.69 661.0 182.31 662.0 183.93 663.0 185.53 664.0 187.13 665.0 188.72 666.0 190.30 667.0 191.87 668.0 193.42 669.0 194.97 670.0 196.51 671.0 198.03 672.0 199.54 673.0 201.04 674.0 202.52 675.0 203.99 676.0 205.45 677.0 206.89 678.0 208.31 679.0 209.72 680.0 211.11 681.0 212.49 682.0 213.84 683.0 215.18 684.0 216.51 685.0 217.81" stroke="#2ca02c" stroke-width="3.0" stroke-dasharray="4.0 3.5"/>
<path d="M79.0 239.87 80.0 241.25 81.0 242.61 82.0 243.97 83.0 245.31 84.0 246.65 85.0 247.98 86.0 249.30 87.0 250.61 88.0 251.91 89.0 253.21 90.0 254.49 91.0 255.77 92.0 257.04 93.0 258.29 94.0 259.54 95.0 260.78 96.0 262.01 97.0 263.24 98.0 264.45 99.0 265.65 100.0 266.85 101.0 268.03 102.0 269.21 103.0 270.38 104.0 271.53 105.0 272.68 106.0 273.82 107.0 274.95 108.0 276.07 109.0 277.18 110.0 278.28 111.0 279.38 112.0 280.46 113.0 281.53 114.0 282.60 115.0 283.65 116.0 284.70 117.0 285.73 118.0 286.76 119.0 287.78 120.0 288.78 121.0 289.78 122.0 290.77 123.0 291.75 124.0 292.72 125.0 293.68 126.0 294.63 127.0 295.57 128.0 296.50 129.0 297.42 130.0 298.33 131.0 299.23 132.0 300.12 133.0 301.00 134.0 301.87 135.0 302.73 136.0 303.58 137.0 304.43 138.0 305.26 139.0 306.08 140.0 306.89 141.0 307.69 142.0 308.48 143.0 309.27 144.0 310.04 145.0 310.80 146.0 311.55 147.0 312.30 148.0 313.03 149.0 313.75 150.0 314.47 151.0 315.17 152.0 315.87 153.0 316.56 154.0 317.23 155.0 317.90 156.0 318.56 157.0 319.21 158.0 319.85 159.0 320.49 160.0 321.11 161.0 321.72 162.0 322.33 163.0 322.93 164.0 323.52 165.0 324.10 166.0 324.67 167.0 325.24 168.0 325.80 169.0 326.34 170.0 326.88 171.0 327.42 172.0 327.94 173.0 328.46 174.0 328.97 175.0 329.47 176.0 329.96 177.0 330.45 178.0 330.93 179.0 331.40 180.0 331.86 181.0 332.32 182.0 332.77 183.0 333.21 184.0 333.65 185.0 334.07 186.0 334.50 187.0 334.91 188.0 335.32 189.0 335.72 190.0 336.11 191.0 336.50 192.0 336.88 193.0 337.26 194.0 337.62 195.0 337.98 196.0 338.34 197.0 338.68 198.0 339.02 199.0 339.36 200.0 339.68 201.0 340.00 202.0 340.32 203.0 340.62 204.0 340.92 205.0 341.21 206.0 341.49 207.0 341.77 208.0 342.04 209.0 342.30 210.0 342.56 211.0 342.80 212.0 343.04 213.0 343.28 214.0 343.50 215.0 343.72 216.0 343.93 217.0 344.14 218.0 344.33 219.0 344.52 220.0 344.70 221.0 344.88 222.0 345.04 223.0 345.20 224.0 345.35 225.0 345.50 226.0 345.63 227.0 345.76 228.0 345.88 229.0 345.99 230.0 346.10 231.0 346.19 232.0 346.28 233.0 346.37 234.0 346.44 235.0 346.50 236.0 346.56 237.0 346.61 238.0 346.65 239.0 346.69 240.0 346.71 241.0 346.73 242.0 346.74 243.0 346.74 244.0 346.73 245.0 346.72 246.0 346.69 247.0 346.66 248.0 346.62 249.0 346.57 250.0 346.52 251.0 346.45 252.0 346.38 253.0 346.30 254.0 346.21 255.0 346.11 256.0 346.00 257.0 345.88 258.0 345.76 259.0 345.63 260.0 345.48 261.0 345.33 262.0 345.18 263.0 345.01 264.0 344.83 265.0 344.65 266.0 344.45 267.0 344.25 268.0 344.04 269.0 343.82 270.0 343.59 271.0 343.35 272.0 343.10 273.0 342.85 274.0 342.58 275.0 342.31 276.0 342.03 277.0 341.73 278.0 341.43 279.0 341.12 280.0 340.80 281.0 340.47 282.0 340.14 283.0 339.79 284.0 339.43 285.0 339.07 286.0 338.69 287.0 338.31 288.0 337.91 289.0 337.51 290.0 337.10 291.0 336.67 292.0 336.24 293.0 335.80 294.0 335.35 295.0 334.89 296.0 334.42 297.0 333.94 298.0 333.45 299.0 332.95 300.0 332.44 301.0 331.92 302.0 331.40 303.0 330.86 304.0 330.31 305.0 329.75 306.0 329.19 307.0 328.61 308.0 328.02 309.0 327.42 310.0 326.82 311.0 326.20 312.0 325.57 313.0 324.93 314.0 324.29 315.0 323.63 316.0 322.96 317.0 322.28 318.0 321.59 319.0 320.89 320.0 320.19 321.0 319.47 322.0 318.74 323.0 318.00 324.0 317.25 325.0 316.49 326.0 315.71 327.0 314.93 328.0 314.14 329.0 313.34 330.0 312.52 331.0 311.70 332.0 310.87 333.0 310.02 334.0 309.17 335.0 308.30 336.0 307.42 337.0 306.53 338.0 305.64 339.0 304.73 340.0 303.81 341.0 302.88 342.0 301.93 343.0 300.98 344.0 300.02 345.0 299.04 346.0 298.06 347.0 297.06 348.0 296.05 349.0 295.03 350.0 294.00 351.0 292.96 352.0 291.91 353.0 290.85 354.0 289.77 355.0 288.68 356.0 287.59 357.0 286.48 358.0 285.36 359.0 284.23 360.0 283.09 361.0 281.93 362.0 280.77 363.0 279.59 364.0 278.40 365.0 277.20 366.0 275.99 367.0 274.77 368.0 273.53 369.0 272.28 370.0 271.03 371.0 269.76 372.0 268.48 373.0 267.18 374.0 265.88 375.0 264.56 376.0 263.23 377.0 261.89 378.0 260.54 379.0 259.18 380.0 257.80 381.0 256.41 382.0 255.01 383.0 253.60 384.0 252.18 385.0 250.74 386.0 249.30 387.0 247.84 388.0 246.37 389.0 244.90 390.0 243.41 391.0 241.91 392.0 240.41 393.0 238.90 394.0 237.37 395.0 235.84 396.0 234.30 397.0 232.75 398.0 231.20 399.0 229.64 400.0 228.07 401.0 226.49 402.0 224.91 403.0 223.32 404.0 221.73 405.0 220.13 406.0 218.53 407.0 216.92 408.0 215.30 409.0 213.68 410.0 212.06 411.0 210.44 412.0 208.81 413.0 207.17 414.0 205.54 415.0 203.90 416.0 202.26 417.0 200.61 418.0 198.97 419.0 197.32 420.0 195.68 421.0 194.03 422.0 192.38 423.0 190.73 424.0 189.08 425.0 187.43 426.0 185.78 427.0 184.13 428.0 182.49 429.0 180.84 430.0 179.20 431.0 177.55 432.0 175.91 433.0 174.28 434.0 172.64 435.0 171.01 436.0 169.38 437.0 167.76 438.0 166.14 439.0 164.52 440.0 162.91 441.0 161.30 442.0 159.70 443.0 158.10 444.0 156.51 445.0 154.93 446.0 153.35 447.0 151.78 448.0 150.21 449.0 148.66 450.0 147.10 451.0 145.56 452.0 144.03 453.0 142.50 454.0 140.98 455.0 139.47 456.0 137.97 457.0 136.48 458.0 135.00 459.0 133.53 460.0 132.07 461.0 130.61 462.0 129.17 463.0 127.75 464.0 126.33 465.0 124.92 466.0 123.53 467.0 122.15 468.0 120.78 469.0 119.42 470.0 118.08 471.0 116.75 472.0 115.43 473.0 114.13 474.0 112.84 475.0 111.57 476.0 110.31 477.0 109.07 478.0 107.84 479.0 106.63 480.0 105.43 481.0 104.25 482.0 103.09 483.0 101.94 484.0 100.81 485.0 99.70 486.0 98.60 487.0 97.52 488.0 96.45 489.0 95.41 490.0 94.38 491.0 93.37 492.0 92.38 493.0 91.40 494.0 90.45 495.0 89.51 496.0 88.59 497.0 87.69 498.0 86.81 499.0 85.95 500.0 85.11 501.0 84.29 502.0 83.48 503.0 82.70 504.0 81.94 505.0 81.20 506.0 80.48 507.0 79.78 508.0 79.10 509.0 78.44 510.0 77.80 511.0 77.18 512.0 76.59 513.0 76.02 514.0 75.46 515.0 74.94 516.0 74.43 517.0 73.95 518.0 73.48 519.0 73.05 520.0 72.63 521.0 72.24 522.0 71.87 523.0 71.52 524.0 71.20 525.0 70.91 526.0 70.63 527.0 70.38 528.0 70.16 529.0 69.96 530.0 69.78 531.0 69.63 532.0 69.51 533.0 69.41 534.0 69.33 535.0 69.29 536.0 69.26 537.0 69.27 538.0 69.30 539.0 69.35 540.0 69.44 541.0 69.54 542.0 69.68 543.0 69.84 544.0 70.02 545.0 70.23 546.0 70.47 547.0 70.72 548.0 71.01 549.0 71.31 550.0 71.65 551.0 72.00 552.0 72.38 553.0 72.78 554.0 73.20 555.0 73.65 556.0 74.12 557.0 74.61 558.0 75.13 559.0 75.66 560.0 76.22 561.0 76.80 562.0 77.40 563.0 78.03 564.0 78.67 565.0 79.33 566.0 80.02 567.0 80.72 568.0 81.45 569.0 82.19 570.0 82.95 571.0 83.74 572.0 84.54 573.0 85.36 574.0 86.20 575.0 87.06 576.0 87.94 577.0 88.83 578.0 89.75 579.0 90.68 580.0 91.63 581.0 92.59 582.0 93.57 583.0 94.57 584.0 95.59 585.0 96.62 586.0 97.67 587.0 98.73 588.0 99.81 589.0 100.91 590.0 102.02 591.0 103.15 592.0 104.29 593.0 105.44 594.0 106.61 595.0 107.80 596.0 109.00 597.0 110.21 598.0 111.43 599.0 112.67 600.0 113.93 601.0 115.19 602.0 116.47 603.0 117.76 604.0 119.06 605.0 120.38 606.0 121.70 607.0 123.04 608.0 124.39 609.0 125.75 610.0 127.13 611.0 128.51 612.0 129.90 613.0 131.31 614.0 132.72 615.0 134.14 616.0 135.58 617.0 137.02 618.0 138.47 619.0 139.94 620.0 141.41 621.0 142.89 622.0 144.37 623.0 145.87 624.0 147.37 625.0 148.89 626.0 150.40 627.0 151.93 628.0 153.46 629.0 155.00 630.0 156.54 631.0 158.09 632.0 159.64 633.0 161.20 634.0 162.76 635.0 164.33 636.0 165.90 637.0 167.47 638.0 169.05 639.0 170.63 640.0 172.21 641.0 173.79 642.0 175.37 643.0 176.95 644.0 178.54 645.0 180.12 646.0 181.70 647.0 183.29 648.0 184.87 649.0 186.45 650.0 188.03 651.0 189.61 652.0 191.18 653.0 192.75 654.0 194.32 655.0 195.88 656.0 197.45 657.0 199.00 658.0 200.55 659.0 202.10 660.0 203.64 661.0 205.18 662.0 206.71 663.0 208.23 664.0 209.75 665.0 211.25 666.0 212.76 667.0 214.25 668.0 215.73 669.0 217.21 670.0 218.68 671.0 220.13 672.0 221.58 673.0 223.02 674.0 224.44 675.0 225.86 676.0 227.26 677.0 228.66 678.0 230.04 679.0 231.41 680.0 232.76 681.0 234.10 682.0 235.43 683.0 236.75 684.0 238.05 685.0 239.33" stroke="#000000" stroke-width="3.0" stroke-dasharray="4.0 3.5"/>
</g>
</g>
<path d="M79.1 376.20H96.10M683.8 376.20H666.80M79.1 364.81H87.80M683.8 364.81H675.10M79.1 353.42H87.80M683.8 353.42H675.10M79.1 342.03H87.80M683.8 342.03H675.10M79.1 330.64H87.80M683.8 330.64H675.10M79.1 319.25H96.10M683.8 319.25H666.80M79.1 307.86H87.80M683.8 307.86H675.10M79.1 296.47H87.80M683.8 296.47H675.10M79.1 285.08H87.80M683.8 285.08H675.10M79.1 273.69H87.80M683.8 273.69H675.10M79.1 262.30H96.10M683.8 262.30H666.80M79.1 250.91H87.80M683.8 250.91H675.10M79.1 239.52H87.80M683.8 239.52H675.10M79.1 228.13H87.80M683.8 228.13H675.10M79.1 216.74H87.80M683.8 216.74H675.10M79.1 205.35H96.10M683.8 205.35H666.80M79.1 193.96H87.80M683.8 193.96H675.10M79.1 182.57H87.80M683.8 182.57H675.10M79.1 171.18H87.80M683.8 171.18H675.10M79.1 159.79H87.80M683.8 159.79H675.10M79.1 148.40H96.10M683.8 148.40H666.80M79.1 137.01H87.80M683.8 137.01H675.10M79.1 125.62H87.80M683.8 125.62H675.10M79.1 114.23H87.80M683.8 114.23H675.10M79.1 102.84H87.80M683.8 102.84H675.10M79.1 91.45H96.10M683.8 91.45H666.80M79.1 80.06H87.80M683.8 80.06H675.10M79.1 68.67H87.80M683.8 68.67H675.10M79.1 57.28H87.80M683.8 57.28H675.10M79.1 45.89H87.80M683.8 45.89H675.10M79.1 34.50H96.10M683.8 34.50H666.80M79.1 23.11H87.80M683.8 23.11H675.10M79.1 11.72H87.80M683.8 11.72H675.10M79.1 0.33H87.80M683.8 0.33H675.10M92.45 376.2V364.20M92.45 0V12.90M111.71 376.2V370.00M111.71 0V6.50M130.97 376.2V370.00M130.97 0V6.50M150.23 376.2V370.00M150.23 0V6.50M169.49 376.2V370.00M169.49 0V6.50M188.75 376.2V364.20M188.75 0V12.90M208.01 376.2V370.00M208.01 0V6.50M227.27 376.2V370.00M227.27 0V6.50M246.53 376.2V370.00M246.53 0V6.50M265.79 376.2V370.00M265.79 0V6.50M285.05 376.2V364.20M285.05 0V12.90M304.31 376.2V370.00M304.31 0V6.50M323.57 376.2V370.00M323.57 0V6.50M342.83 376.2V370.00M342.83 0V6.50M362.09 376.2V370.00M362.09 0V6.50M381.35 376.2V364.20M381.35 0V12.90M400.61 376.2V370.00M400.61 0V6.50M419.87 376.2V370.00M419.87 0V6.50M439.13 376.2V370.00M439.13 0V6.50M458.39 376.2V370.00M458.39 0V6.50M477.65 376.2V364.20M477.65 0V12.90M496.91 376.2V370.00M496.91 0V6.50M516.17 376.2V370.00M516.17 0V6.50M535.43 376.2V370.00M535.43 0V6.50M554.69 376.2V370.00M554.69 0V6.50M573.95 376.2V364.20M573.95 0V12.90M593.21 376.2V370.00M593.21 0V6.50M612.47 376.2V370.00M612.47 0V6.50M631.73 376.2V370.00M631.73 0V6.50M650.99 376.2V370.00M650.99 0V6.50M670.25 376.2V364.20M670.25 0V12.90" stroke="#000" stroke-width="1.3" fill="none"/>
<path d="M79.1 0V376.2H683.8" stroke="#000" stroke-width="1.6" fill="none"/>
<path d="M79.1 0.6H683.8" stroke="#000" stroke-width="1.3" fill="none"/>
<rect x="683.2" y="0" width="1.8" height="377" fill="#8c8c8c"/>
<g font-size="22.3"><text x="75.6" y="383.8" text-anchor="end">0</text><text x="75.6" y="326.9" text-anchor="end">5</text><text x="75.6" y="269.9" text-anchor="end">10</text><text x="75.6" y="212.9" text-anchor="end">15</text><text x="75.6" y="156.0" text-anchor="end">20</text><text x="75.6" y="99.0" text-anchor="end">25</text><text x="75.6" y="42.1" text-anchor="end">30</text><text x="91.3" y="398.3" text-anchor="middle">−3</text><text x="188.0" y="398.3" text-anchor="middle">−2</text><text x="284.2" y="398.3" text-anchor="middle">−1</text><text x="380.6" y="398.3" text-anchor="middle">0</text><text x="477.9" y="398.3" text-anchor="middle">1</text><text x="573.2" y="398.3" text-anchor="middle">2</text><text x="669.5" y="398.3" text-anchor="middle">3</text></g>
<g transform="translate(21.8,37.4) rotate(-90)" font-size="26.4"><text x="0" y="0">Δ</text><text transform="translate(28.33,-10.9) scale(1.25,1)" font-size="15.8">2</text></g>
<g fill="none" stroke="#000"><path d="M9.6 10.4L25.3 19.2" stroke-width="2.4"/><path d="M12.4 20.2C10.2 20.3 8.8 19.3 9.1 17.6C9.4 16.2 10.8 15.7 12.5 15.3L21.5 13.3C24 12.7 25.9 11.8 26.1 10.2C26.2 8.9 24.6 8.2 22.3 8.3" stroke-width="1.35"/><path d="M22.4 8.3C24.4 8.4 25.6 9.2 25.7 10.4M9.5 17.2C9.3 18.6 10.4 19.8 12.2 20.0" stroke-width="1.9"/></g>
<text font-size="26.4" x="651.3" y="431.5">δ<tspan font-size="15.8" dy="7.3">CP</tspan></text>
<g fill="none" font-size="17" letter-spacing="-0.28"><path d="M126 50.3H180" stroke="#666666" stroke-width="2.2"/><text x="191.2" y="57.1">A = [PRD 103, 112008]</text><path d="M126 82.0H180" stroke="#3a88c0" stroke-width="2.0"/><text x="191.2" y="88.8">B = A + new int. model, ND data</text><path d="M126 113.6H180" stroke="#ff841a" stroke-width="1.8"/><text x="191.2" y="120.4">C = B + new <tspan>θ</tspan><tspan font-size="11.3" dy="5">13</tspan><tspan dy="-5" dx="1.8"> constr. [PDG19]</tspan></text><path d="M126 145.7H180" stroke="#2ca02c" stroke-width="2.9"/><text x="191.2" y="152.5">D = C + FD reprocessing</text><path d="M126 177.4H180" stroke="#000000" stroke-width="3.0"/><text x="191.2" y="184.2">E = D + run10 FD data</text></g>
<g font-size="17.3">
<path d="M441.3 311H473" stroke="#000" stroke-width="2.5"/>
<path d="M441.3 335.3H473" stroke="#000" stroke-width="2.5" stroke-dasharray="3.9 3.6"/>
<text x="479.4" y="315.9">Normal ordering</text>
<text x="479.4" y="340.5">Inverted ordering</text>
</g>
</svg>
</body></html>
